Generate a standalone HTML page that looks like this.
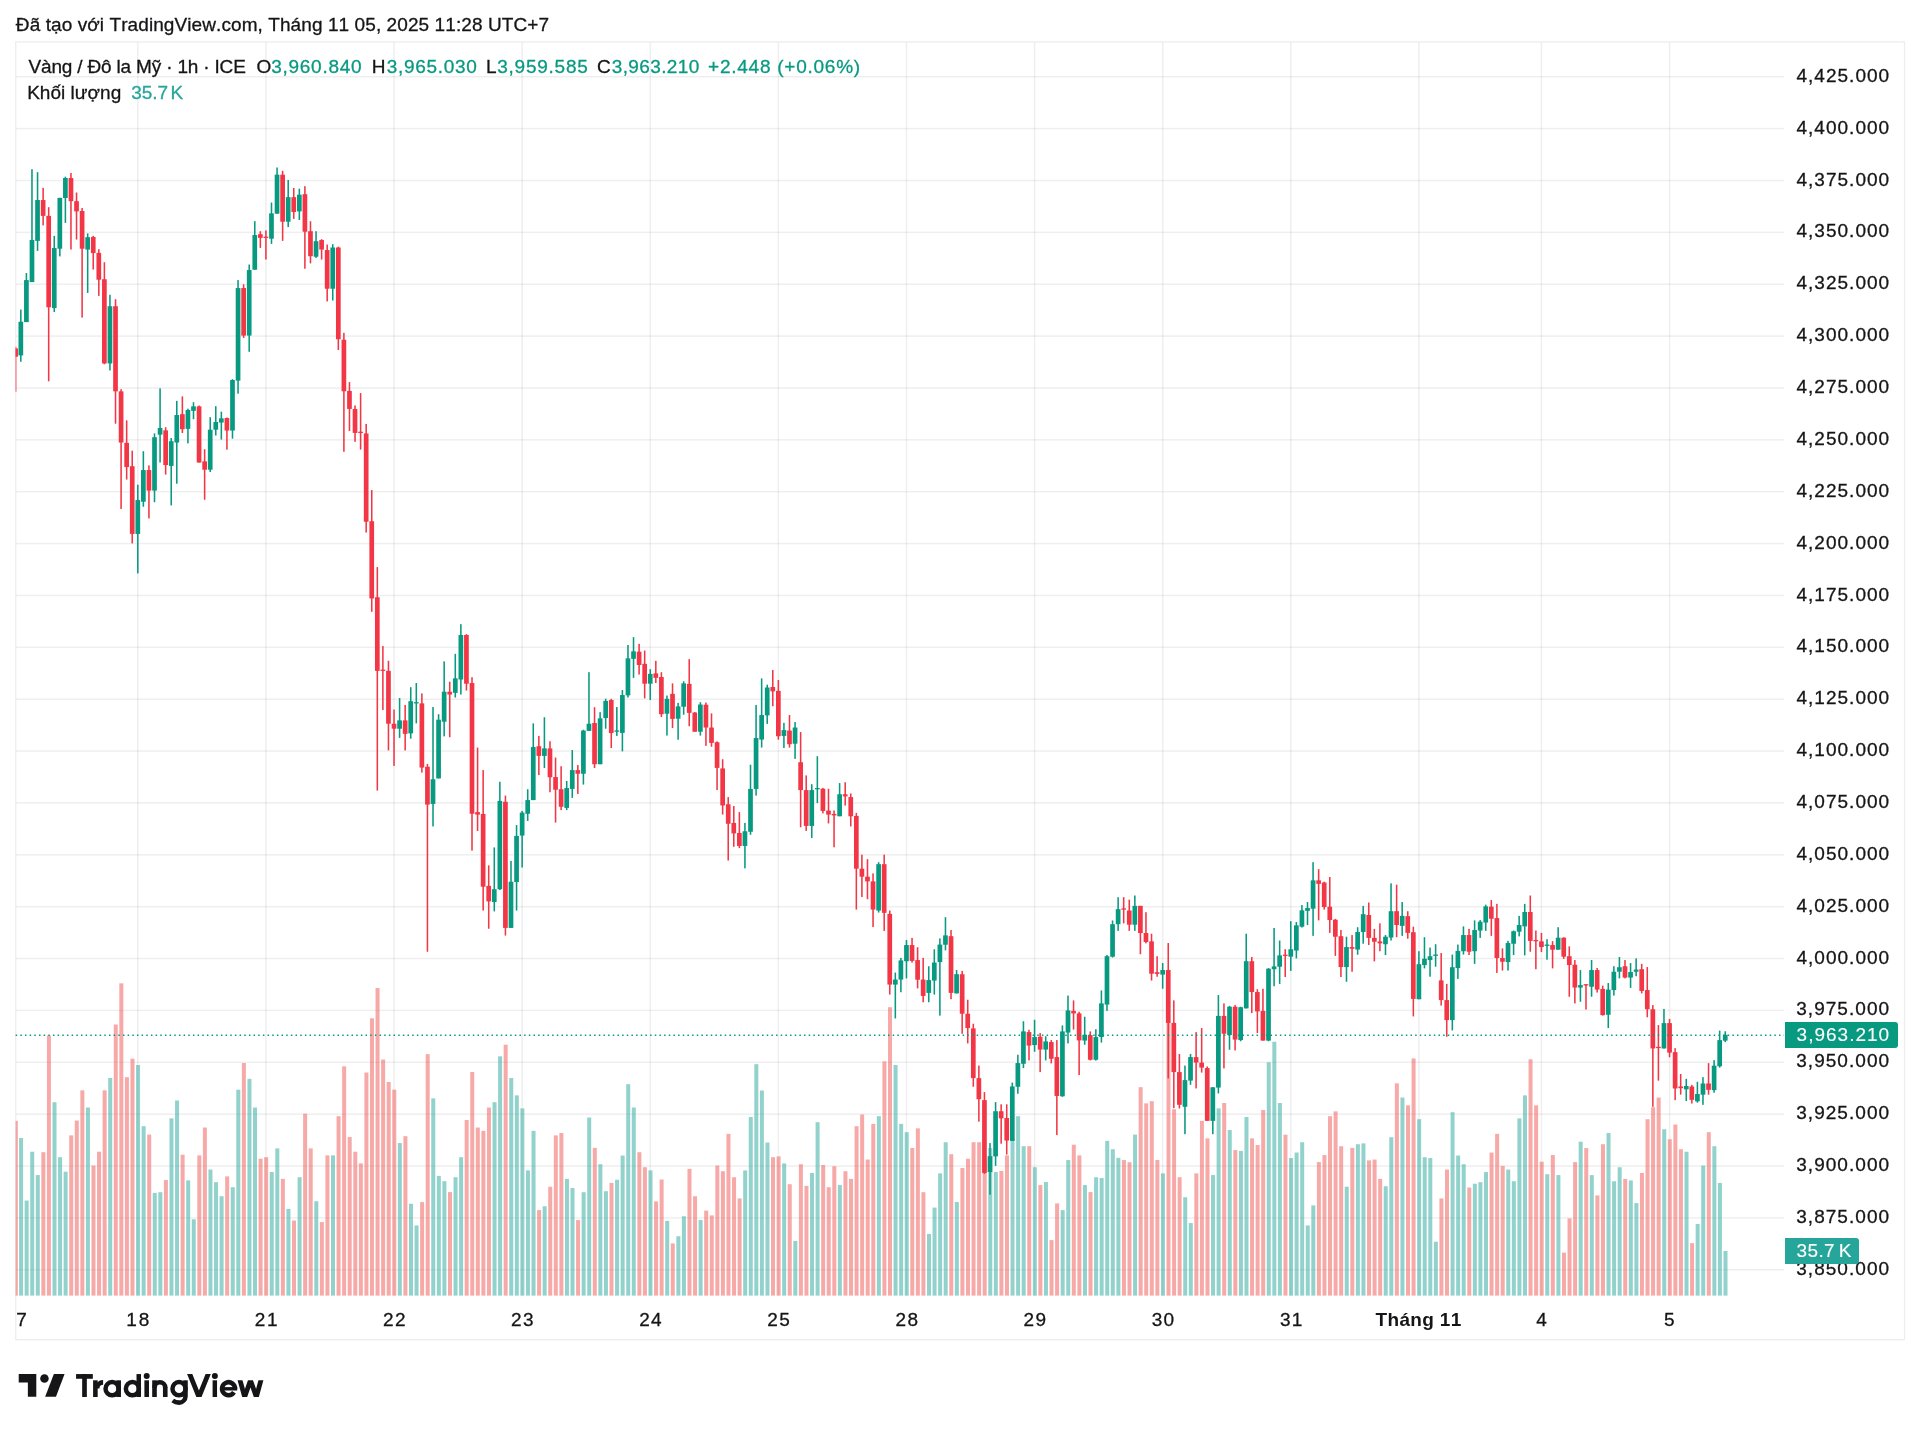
<!DOCTYPE html><html><head><meta charset="utf-8"><title>chart</title><style>
html,body{margin:0;padding:0;background:#fff}body{width:1920px;height:1433px;position:relative;overflow:hidden;font-family:"Liberation Sans",sans-serif}
.t{position:absolute;white-space:pre;line-height:1em;margin:0;padding:0;font-kerning:none;font-variant-ligatures:none;-webkit-text-stroke:0.3px currentColor}
</style></head><body>
<svg width="1920" height="1433" viewBox="0 0 1920 1433" style="position:absolute;left:0;top:0" shape-rendering="auto">
<defs><clipPath id="pc"><rect x="15.6" y="42" width="1768.4" height="1258"/></clipPath></defs>
<rect x="15.75" y="41.9" width="1888.75" height="1297.8" fill="none" stroke="rgba(20,20,30,0.075)" stroke-width="1.3"/><rect x="16.2" y="76" width="1767.8" height="1.5" fill="rgba(20,20,30,0.065)"/><rect x="16.2" y="127.87" width="1767.8" height="1.5" fill="rgba(20,20,30,0.065)"/><rect x="16.2" y="179.74" width="1767.8" height="1.5" fill="rgba(20,20,30,0.065)"/><rect x="16.2" y="231.61" width="1767.8" height="1.5" fill="rgba(20,20,30,0.065)"/><rect x="16.2" y="283.48" width="1767.8" height="1.5" fill="rgba(20,20,30,0.065)"/><rect x="16.2" y="335.35" width="1767.8" height="1.5" fill="rgba(20,20,30,0.065)"/><rect x="16.2" y="387.22" width="1767.8" height="1.5" fill="rgba(20,20,30,0.065)"/><rect x="16.2" y="439.09" width="1767.8" height="1.5" fill="rgba(20,20,30,0.065)"/><rect x="16.2" y="490.96" width="1767.8" height="1.5" fill="rgba(20,20,30,0.065)"/><rect x="16.2" y="542.83" width="1767.8" height="1.5" fill="rgba(20,20,30,0.065)"/><rect x="16.2" y="594.7" width="1767.8" height="1.5" fill="rgba(20,20,30,0.065)"/><rect x="16.2" y="646.57" width="1767.8" height="1.5" fill="rgba(20,20,30,0.065)"/><rect x="16.2" y="698.44" width="1767.8" height="1.5" fill="rgba(20,20,30,0.065)"/><rect x="16.2" y="750.31" width="1767.8" height="1.5" fill="rgba(20,20,30,0.065)"/><rect x="16.2" y="802.18" width="1767.8" height="1.5" fill="rgba(20,20,30,0.065)"/><rect x="16.2" y="854.05" width="1767.8" height="1.5" fill="rgba(20,20,30,0.065)"/><rect x="16.2" y="905.92" width="1767.8" height="1.5" fill="rgba(20,20,30,0.065)"/><rect x="16.2" y="957.79" width="1767.8" height="1.5" fill="rgba(20,20,30,0.065)"/><rect x="16.2" y="1009.66" width="1767.8" height="1.5" fill="rgba(20,20,30,0.065)"/><rect x="16.2" y="1061.53" width="1767.8" height="1.5" fill="rgba(20,20,30,0.065)"/><rect x="16.2" y="1113.4" width="1767.8" height="1.5" fill="rgba(20,20,30,0.065)"/><rect x="16.2" y="1165.27" width="1767.8" height="1.5" fill="rgba(20,20,30,0.065)"/><rect x="16.2" y="1217.14" width="1767.8" height="1.5" fill="rgba(20,20,30,0.065)"/><rect x="16.2" y="1269.01" width="1767.8" height="1.5" fill="rgba(20,20,30,0.065)"/><rect x="137.05" y="42.5" width="1.5" height="1254" fill="rgba(20,20,30,0.065)"/><rect x="265.16" y="42.5" width="1.5" height="1254" fill="rgba(20,20,30,0.065)"/><rect x="393.27" y="42.5" width="1.5" height="1254" fill="rgba(20,20,30,0.065)"/><rect x="521.38" y="42.5" width="1.5" height="1254" fill="rgba(20,20,30,0.065)"/><rect x="649.49" y="42.5" width="1.5" height="1254" fill="rgba(20,20,30,0.065)"/><rect x="777.6" y="42.5" width="1.5" height="1254" fill="rgba(20,20,30,0.065)"/><rect x="905.71" y="42.5" width="1.5" height="1254" fill="rgba(20,20,30,0.065)"/><rect x="1033.82" y="42.5" width="1.5" height="1254" fill="rgba(20,20,30,0.065)"/><rect x="1161.93" y="42.5" width="1.5" height="1254" fill="rgba(20,20,30,0.065)"/><rect x="1290.04" y="42.5" width="1.5" height="1254" fill="rgba(20,20,30,0.065)"/><rect x="1418.15" y="42.5" width="1.5" height="1254" fill="rgba(20,20,30,0.065)"/><rect x="1540.69" y="42.5" width="1.5" height="1254" fill="rgba(20,20,30,0.065)"/><rect x="1668.8" y="42.5" width="1.5" height="1254" fill="rgba(20,20,30,0.065)"/>
<g clip-path="url(#pc)"><rect x="13.86" y="1120.86" width="4" height="174.74" fill="rgba(239,83,80,0.5)"/><rect x="19.08" y="1138.04" width="4" height="157.56" fill="rgba(38,166,154,0.5)"/><rect x="24.65" y="1200.57" width="4" height="95.03" fill="rgba(38,166,154,0.5)"/><rect x="30.22" y="1151.71" width="4" height="143.89" fill="rgba(38,166,154,0.5)"/><rect x="35.79" y="1175.06" width="4" height="120.54" fill="rgba(38,166,154,0.5)"/><rect x="41.36" y="1152.21" width="4" height="143.39" fill="rgba(239,83,80,0.5)"/><rect x="46.93" y="1035.5" width="4" height="260.1" fill="rgba(239,83,80,0.5)"/><rect x="52.5" y="1102.19" width="4" height="193.41" fill="rgba(38,166,154,0.5)"/><rect x="58.07" y="1157.22" width="4" height="138.38" fill="rgba(38,166,154,0.5)"/><rect x="63.64" y="1171.72" width="4" height="123.88" fill="rgba(38,166,154,0.5)"/><rect x="69.21" y="1135.37" width="4" height="160.23" fill="rgba(239,83,80,0.5)"/><rect x="74.78" y="1120.53" width="4" height="175.07" fill="rgba(239,83,80,0.5)"/><rect x="80.35" y="1090.35" width="4" height="205.25" fill="rgba(239,83,80,0.5)"/><rect x="85.92" y="1107.52" width="4" height="188.08" fill="rgba(38,166,154,0.5)"/><rect x="91.49" y="1165.55" width="4" height="130.05" fill="rgba(239,83,80,0.5)"/><rect x="97.06" y="1151.71" width="4" height="143.89" fill="rgba(239,83,80,0.5)"/><rect x="102.63" y="1090.35" width="4" height="205.25" fill="rgba(239,83,80,0.5)"/><rect x="108.2" y="1078.01" width="4" height="217.59" fill="rgba(38,166,154,0.5)"/><rect x="113.77" y="1024.5" width="4" height="271.1" fill="rgba(239,83,80,0.5)"/><rect x="119.34" y="983.33" width="4" height="312.27" fill="rgba(239,83,80,0.5)"/><rect x="124.91" y="1077.18" width="4" height="218.42" fill="rgba(239,83,80,0.5)"/><rect x="130.48" y="1058.67" width="4" height="236.93" fill="rgba(239,83,80,0.5)"/><rect x="136.05" y="1065" width="4" height="230.6" fill="rgba(38,166,154,0.5)"/><rect x="141.62" y="1126.2" width="4" height="169.4" fill="rgba(38,166,154,0.5)"/><rect x="147.19" y="1134.54" width="4" height="161.06" fill="rgba(239,83,80,0.5)"/><rect x="152.76" y="1192.9" width="4" height="102.7" fill="rgba(38,166,154,0.5)"/><rect x="158.33" y="1192.23" width="4" height="103.37" fill="rgba(38,166,154,0.5)"/><rect x="163.9" y="1180.06" width="4" height="115.54" fill="rgba(239,83,80,0.5)"/><rect x="169.47" y="1118.36" width="4" height="177.24" fill="rgba(38,166,154,0.5)"/><rect x="175.04" y="1100.52" width="4" height="195.08" fill="rgba(38,166,154,0.5)"/><rect x="180.61" y="1154.71" width="4" height="140.89" fill="rgba(239,83,80,0.5)"/><rect x="186.18" y="1180.39" width="4" height="115.21" fill="rgba(38,166,154,0.5)"/><rect x="191.75" y="1219.25" width="4" height="76.35" fill="rgba(38,166,154,0.5)"/><rect x="197.32" y="1155.38" width="4" height="140.22" fill="rgba(239,83,80,0.5)"/><rect x="202.89" y="1127.53" width="4" height="168.07" fill="rgba(239,83,80,0.5)"/><rect x="208.46" y="1169.55" width="4" height="126.05" fill="rgba(38,166,154,0.5)"/><rect x="214.03" y="1182.23" width="4" height="113.37" fill="rgba(38,166,154,0.5)"/><rect x="219.6" y="1196.23" width="4" height="99.37" fill="rgba(38,166,154,0.5)"/><rect x="225.17" y="1176.39" width="4" height="119.21" fill="rgba(239,83,80,0.5)"/><rect x="230.74" y="1187.23" width="4" height="108.37" fill="rgba(38,166,154,0.5)"/><rect x="236.31" y="1089.68" width="4" height="205.92" fill="rgba(38,166,154,0.5)"/><rect x="241.88" y="1063" width="4" height="232.6" fill="rgba(239,83,80,0.5)"/><rect x="247.45" y="1078.84" width="4" height="216.76" fill="rgba(38,166,154,0.5)"/><rect x="253.02" y="1107.52" width="4" height="188.08" fill="rgba(38,166,154,0.5)"/><rect x="258.59" y="1158.72" width="4" height="136.88" fill="rgba(239,83,80,0.5)"/><rect x="264.16" y="1157.22" width="4" height="138.38" fill="rgba(239,83,80,0.5)"/><rect x="269.73" y="1172.06" width="4" height="123.54" fill="rgba(38,166,154,0.5)"/><rect x="275.3" y="1148.38" width="4" height="147.22" fill="rgba(38,166,154,0.5)"/><rect x="280.87" y="1178.89" width="4" height="116.71" fill="rgba(239,83,80,0.5)"/><rect x="286.44" y="1208.91" width="4" height="86.69" fill="rgba(38,166,154,0.5)"/><rect x="292.01" y="1220.58" width="4" height="75.02" fill="rgba(239,83,80,0.5)"/><rect x="297.58" y="1177.23" width="4" height="118.37" fill="rgba(38,166,154,0.5)"/><rect x="303.15" y="1113.69" width="4" height="181.91" fill="rgba(239,83,80,0.5)"/><rect x="308.72" y="1148.38" width="4" height="147.22" fill="rgba(239,83,80,0.5)"/><rect x="314.29" y="1201.24" width="4" height="94.36" fill="rgba(38,166,154,0.5)"/><rect x="319.86" y="1222.08" width="4" height="73.52" fill="rgba(239,83,80,0.5)"/><rect x="325.43" y="1155.38" width="4" height="140.22" fill="rgba(239,83,80,0.5)"/><rect x="331" y="1155.38" width="4" height="140.22" fill="rgba(38,166,154,0.5)"/><rect x="336.57" y="1116.19" width="4" height="179.41" fill="rgba(239,83,80,0.5)"/><rect x="342.14" y="1066.34" width="4" height="229.26" fill="rgba(239,83,80,0.5)"/><rect x="347.71" y="1137.04" width="4" height="158.56" fill="rgba(239,83,80,0.5)"/><rect x="353.28" y="1151.71" width="4" height="143.89" fill="rgba(239,83,80,0.5)"/><rect x="358.85" y="1163.39" width="4" height="132.21" fill="rgba(239,83,80,0.5)"/><rect x="364.42" y="1072.51" width="4" height="223.09" fill="rgba(239,83,80,0.5)"/><rect x="369.99" y="1018.33" width="4" height="277.27" fill="rgba(239,83,80,0.5)"/><rect x="375.56" y="988" width="4" height="307.6" fill="rgba(239,83,80,0.5)"/><rect x="381.13" y="1059.5" width="4" height="236.1" fill="rgba(239,83,80,0.5)"/><rect x="386.7" y="1082.01" width="4" height="213.59" fill="rgba(239,83,80,0.5)"/><rect x="392.27" y="1089.68" width="4" height="205.92" fill="rgba(239,83,80,0.5)"/><rect x="397.84" y="1143.04" width="4" height="152.56" fill="rgba(38,166,154,0.5)"/><rect x="403.41" y="1136.2" width="4" height="159.4" fill="rgba(239,83,80,0.5)"/><rect x="408.98" y="1203.74" width="4" height="91.86" fill="rgba(38,166,154,0.5)"/><rect x="414.55" y="1225.42" width="4" height="70.18" fill="rgba(38,166,154,0.5)"/><rect x="420.12" y="1202.07" width="4" height="93.53" fill="rgba(239,83,80,0.5)"/><rect x="425.69" y="1054.17" width="4" height="241.43" fill="rgba(239,83,80,0.5)"/><rect x="431.26" y="1098.35" width="4" height="197.25" fill="rgba(38,166,154,0.5)"/><rect x="436.83" y="1175.89" width="4" height="119.71" fill="rgba(38,166,154,0.5)"/><rect x="442.4" y="1181.23" width="4" height="114.37" fill="rgba(38,166,154,0.5)"/><rect x="447.97" y="1192.07" width="4" height="103.53" fill="rgba(239,83,80,0.5)"/><rect x="453.54" y="1177.23" width="4" height="118.37" fill="rgba(38,166,154,0.5)"/><rect x="459.11" y="1157.22" width="4" height="138.38" fill="rgba(38,166,154,0.5)"/><rect x="464.68" y="1120.03" width="4" height="175.57" fill="rgba(239,83,80,0.5)"/><rect x="470.25" y="1072.01" width="4" height="223.59" fill="rgba(239,83,80,0.5)"/><rect x="475.82" y="1127.53" width="4" height="168.07" fill="rgba(239,83,80,0.5)"/><rect x="481.39" y="1130.87" width="4" height="164.73" fill="rgba(239,83,80,0.5)"/><rect x="486.96" y="1107.52" width="4" height="188.08" fill="rgba(239,83,80,0.5)"/><rect x="492.53" y="1102.19" width="4" height="193.41" fill="rgba(38,166,154,0.5)"/><rect x="498.1" y="1056.33" width="4" height="239.27" fill="rgba(38,166,154,0.5)"/><rect x="503.67" y="1044.67" width="4" height="250.93" fill="rgba(239,83,80,0.5)"/><rect x="509.24" y="1078.01" width="4" height="217.59" fill="rgba(38,166,154,0.5)"/><rect x="514.81" y="1095.35" width="4" height="200.25" fill="rgba(38,166,154,0.5)"/><rect x="520.38" y="1108.36" width="4" height="187.24" fill="rgba(38,166,154,0.5)"/><rect x="525.95" y="1170.39" width="4" height="125.21" fill="rgba(38,166,154,0.5)"/><rect x="531.52" y="1130.87" width="4" height="164.73" fill="rgba(38,166,154,0.5)"/><rect x="537.09" y="1210.08" width="4" height="85.52" fill="rgba(239,83,80,0.5)"/><rect x="542.66" y="1206.24" width="4" height="89.36" fill="rgba(38,166,154,0.5)"/><rect x="548.23" y="1186.73" width="4" height="108.87" fill="rgba(239,83,80,0.5)"/><rect x="553.8" y="1135.37" width="4" height="160.23" fill="rgba(239,83,80,0.5)"/><rect x="559.37" y="1133.04" width="4" height="162.56" fill="rgba(239,83,80,0.5)"/><rect x="564.94" y="1178.89" width="4" height="116.71" fill="rgba(38,166,154,0.5)"/><rect x="570.51" y="1188.06" width="4" height="107.54" fill="rgba(38,166,154,0.5)"/><rect x="576.08" y="1220.08" width="4" height="75.52" fill="rgba(239,83,80,0.5)"/><rect x="581.65" y="1192.23" width="4" height="103.37" fill="rgba(38,166,154,0.5)"/><rect x="587.22" y="1117.53" width="4" height="178.07" fill="rgba(38,166,154,0.5)"/><rect x="592.79" y="1147.88" width="4" height="147.72" fill="rgba(239,83,80,0.5)"/><rect x="598.36" y="1164.22" width="4" height="131.38" fill="rgba(38,166,154,0.5)"/><rect x="603.93" y="1191.23" width="4" height="104.37" fill="rgba(38,166,154,0.5)"/><rect x="609.5" y="1182.89" width="4" height="112.71" fill="rgba(239,83,80,0.5)"/><rect x="615.07" y="1179.73" width="4" height="115.87" fill="rgba(38,166,154,0.5)"/><rect x="620.64" y="1155.55" width="4" height="140.05" fill="rgba(38,166,154,0.5)"/><rect x="626.21" y="1084.18" width="4" height="211.42" fill="rgba(38,166,154,0.5)"/><rect x="631.78" y="1107.52" width="4" height="188.08" fill="rgba(38,166,154,0.5)"/><rect x="637.35" y="1152.21" width="4" height="143.39" fill="rgba(239,83,80,0.5)"/><rect x="642.92" y="1167.22" width="4" height="128.38" fill="rgba(239,83,80,0.5)"/><rect x="648.49" y="1170.39" width="4" height="125.21" fill="rgba(38,166,154,0.5)"/><rect x="654.06" y="1201.4" width="4" height="94.2" fill="rgba(239,83,80,0.5)"/><rect x="659.63" y="1179.56" width="4" height="116.04" fill="rgba(239,83,80,0.5)"/><rect x="665.2" y="1220.91" width="4" height="74.69" fill="rgba(38,166,154,0.5)"/><rect x="670.77" y="1243.43" width="4" height="52.17" fill="rgba(239,83,80,0.5)"/><rect x="676.34" y="1236.25" width="4" height="59.35" fill="rgba(38,166,154,0.5)"/><rect x="681.91" y="1216.24" width="4" height="79.36" fill="rgba(38,166,154,0.5)"/><rect x="687.48" y="1168.89" width="4" height="126.71" fill="rgba(239,83,80,0.5)"/><rect x="693.05" y="1196.23" width="4" height="99.37" fill="rgba(239,83,80,0.5)"/><rect x="698.62" y="1220.08" width="4" height="75.52" fill="rgba(38,166,154,0.5)"/><rect x="704.19" y="1210.58" width="4" height="85.02" fill="rgba(239,83,80,0.5)"/><rect x="709.76" y="1215.41" width="4" height="80.19" fill="rgba(239,83,80,0.5)"/><rect x="715.33" y="1165.55" width="4" height="130.05" fill="rgba(239,83,80,0.5)"/><rect x="720.9" y="1171.22" width="4" height="124.38" fill="rgba(239,83,80,0.5)"/><rect x="726.47" y="1133.87" width="4" height="161.73" fill="rgba(239,83,80,0.5)"/><rect x="732.04" y="1177.23" width="4" height="118.37" fill="rgba(239,83,80,0.5)"/><rect x="737.61" y="1198.4" width="4" height="97.2" fill="rgba(239,83,80,0.5)"/><rect x="743.18" y="1170.39" width="4" height="125.21" fill="rgba(38,166,154,0.5)"/><rect x="748.75" y="1117.03" width="4" height="178.57" fill="rgba(38,166,154,0.5)"/><rect x="754.32" y="1064.17" width="4" height="231.43" fill="rgba(38,166,154,0.5)"/><rect x="759.89" y="1090.52" width="4" height="205.08" fill="rgba(38,166,154,0.5)"/><rect x="765.46" y="1142.54" width="4" height="153.06" fill="rgba(38,166,154,0.5)"/><rect x="771.03" y="1157.22" width="4" height="138.38" fill="rgba(239,83,80,0.5)"/><rect x="776.6" y="1156.38" width="4" height="139.22" fill="rgba(239,83,80,0.5)"/><rect x="782.17" y="1163.39" width="4" height="132.21" fill="rgba(38,166,154,0.5)"/><rect x="787.74" y="1184.23" width="4" height="111.37" fill="rgba(239,83,80,0.5)"/><rect x="793.31" y="1240.92" width="4" height="54.68" fill="rgba(38,166,154,0.5)"/><rect x="798.88" y="1164.22" width="4" height="131.38" fill="rgba(239,83,80,0.5)"/><rect x="804.45" y="1185.9" width="4" height="109.7" fill="rgba(239,83,80,0.5)"/><rect x="810.02" y="1172.89" width="4" height="122.71" fill="rgba(38,166,154,0.5)"/><rect x="815.59" y="1122.2" width="4" height="173.4" fill="rgba(38,166,154,0.5)"/><rect x="821.16" y="1165.05" width="4" height="130.55" fill="rgba(239,83,80,0.5)"/><rect x="826.73" y="1187.23" width="4" height="108.37" fill="rgba(239,83,80,0.5)"/><rect x="832.3" y="1166.22" width="4" height="129.38" fill="rgba(239,83,80,0.5)"/><rect x="837.87" y="1185.06" width="4" height="110.54" fill="rgba(38,166,154,0.5)"/><rect x="843.44" y="1171.22" width="4" height="124.38" fill="rgba(239,83,80,0.5)"/><rect x="849.01" y="1178.89" width="4" height="116.71" fill="rgba(239,83,80,0.5)"/><rect x="854.58" y="1126.2" width="4" height="169.4" fill="rgba(239,83,80,0.5)"/><rect x="860.15" y="1114.53" width="4" height="181.07" fill="rgba(239,83,80,0.5)"/><rect x="865.72" y="1159.55" width="4" height="136.05" fill="rgba(239,83,80,0.5)"/><rect x="871.29" y="1123.87" width="4" height="171.73" fill="rgba(239,83,80,0.5)"/><rect x="876.86" y="1116.19" width="4" height="179.41" fill="rgba(38,166,154,0.5)"/><rect x="882.43" y="1061.33" width="4" height="234.27" fill="rgba(239,83,80,0.5)"/><rect x="888" y="1007.2" width="4" height="288.4" fill="rgba(239,83,80,0.5)"/><rect x="893.57" y="1065" width="4" height="230.6" fill="rgba(38,166,154,0.5)"/><rect x="899.14" y="1123.87" width="4" height="171.73" fill="rgba(38,166,154,0.5)"/><rect x="904.71" y="1132.2" width="4" height="163.4" fill="rgba(38,166,154,0.5)"/><rect x="910.28" y="1148.04" width="4" height="147.56" fill="rgba(239,83,80,0.5)"/><rect x="915.85" y="1128.37" width="4" height="167.23" fill="rgba(239,83,80,0.5)"/><rect x="921.42" y="1192.23" width="4" height="103.37" fill="rgba(239,83,80,0.5)"/><rect x="926.99" y="1233.92" width="4" height="61.68" fill="rgba(38,166,154,0.5)"/><rect x="932.56" y="1207.57" width="4" height="88.03" fill="rgba(38,166,154,0.5)"/><rect x="938.13" y="1173.39" width="4" height="122.21" fill="rgba(38,166,154,0.5)"/><rect x="943.7" y="1142.21" width="4" height="153.39" fill="rgba(38,166,154,0.5)"/><rect x="949.27" y="1154.21" width="4" height="141.39" fill="rgba(239,83,80,0.5)"/><rect x="954.84" y="1202.07" width="4" height="93.53" fill="rgba(38,166,154,0.5)"/><rect x="960.41" y="1168.05" width="4" height="127.55" fill="rgba(239,83,80,0.5)"/><rect x="965.98" y="1158.72" width="4" height="136.88" fill="rgba(239,83,80,0.5)"/><rect x="971.55" y="1142.21" width="4" height="153.39" fill="rgba(239,83,80,0.5)"/><rect x="977.12" y="1142.21" width="4" height="153.39" fill="rgba(239,83,80,0.5)"/><rect x="982.69" y="1160.05" width="4" height="135.55" fill="rgba(239,83,80,0.5)"/><rect x="988.26" y="1148.04" width="4" height="147.56" fill="rgba(38,166,154,0.5)"/><rect x="993.83" y="1172.06" width="4" height="123.54" fill="rgba(38,166,154,0.5)"/><rect x="999.4" y="1170.89" width="4" height="124.71" fill="rgba(239,83,80,0.5)"/><rect x="1004.97" y="1155.38" width="4" height="140.22" fill="rgba(239,83,80,0.5)"/><rect x="1010.54" y="1138.37" width="4" height="157.23" fill="rgba(38,166,154,0.5)"/><rect x="1016.11" y="1116.19" width="4" height="179.41" fill="rgba(38,166,154,0.5)"/><rect x="1021.68" y="1146.21" width="4" height="149.39" fill="rgba(38,166,154,0.5)"/><rect x="1027.25" y="1146.21" width="4" height="149.39" fill="rgba(239,83,80,0.5)"/><rect x="1032.82" y="1167.22" width="4" height="128.38" fill="rgba(38,166,154,0.5)"/><rect x="1038.39" y="1185.06" width="4" height="110.54" fill="rgba(239,83,80,0.5)"/><rect x="1043.96" y="1182.06" width="4" height="113.54" fill="rgba(38,166,154,0.5)"/><rect x="1049.53" y="1240.09" width="4" height="55.51" fill="rgba(239,83,80,0.5)"/><rect x="1055.1" y="1203.41" width="4" height="92.19" fill="rgba(239,83,80,0.5)"/><rect x="1060.67" y="1210.08" width="4" height="85.52" fill="rgba(38,166,154,0.5)"/><rect x="1066.24" y="1160.05" width="4" height="135.55" fill="rgba(38,166,154,0.5)"/><rect x="1071.81" y="1144.71" width="4" height="150.89" fill="rgba(239,83,80,0.5)"/><rect x="1077.38" y="1155.38" width="4" height="140.22" fill="rgba(239,83,80,0.5)"/><rect x="1082.95" y="1185.06" width="4" height="110.54" fill="rgba(38,166,154,0.5)"/><rect x="1088.52" y="1192.07" width="4" height="103.53" fill="rgba(239,83,80,0.5)"/><rect x="1094.09" y="1177.23" width="4" height="118.37" fill="rgba(38,166,154,0.5)"/><rect x="1099.66" y="1178.06" width="4" height="117.54" fill="rgba(38,166,154,0.5)"/><rect x="1105.23" y="1140.87" width="4" height="154.73" fill="rgba(38,166,154,0.5)"/><rect x="1110.8" y="1149.21" width="4" height="146.39" fill="rgba(38,166,154,0.5)"/><rect x="1116.37" y="1157.88" width="4" height="137.72" fill="rgba(38,166,154,0.5)"/><rect x="1121.94" y="1160.05" width="4" height="135.55" fill="rgba(239,83,80,0.5)"/><rect x="1127.51" y="1162.22" width="4" height="133.38" fill="rgba(239,83,80,0.5)"/><rect x="1133.08" y="1134.54" width="4" height="161.06" fill="rgba(38,166,154,0.5)"/><rect x="1138.65" y="1087.18" width="4" height="208.42" fill="rgba(239,83,80,0.5)"/><rect x="1144.22" y="1103.36" width="4" height="192.24" fill="rgba(239,83,80,0.5)"/><rect x="1149.79" y="1101.19" width="4" height="194.41" fill="rgba(239,83,80,0.5)"/><rect x="1155.36" y="1160.05" width="4" height="135.55" fill="rgba(239,83,80,0.5)"/><rect x="1160.93" y="1173.39" width="4" height="122.21" fill="rgba(38,166,154,0.5)"/><rect x="1166.5" y="1022" width="4" height="273.6" fill="rgba(239,83,80,0.5)"/><rect x="1172.07" y="1109.19" width="4" height="186.41" fill="rgba(239,83,80,0.5)"/><rect x="1177.64" y="1177.23" width="4" height="118.37" fill="rgba(239,83,80,0.5)"/><rect x="1183.21" y="1197.24" width="4" height="98.36" fill="rgba(38,166,154,0.5)"/><rect x="1188.78" y="1223.08" width="4" height="72.52" fill="rgba(38,166,154,0.5)"/><rect x="1194.35" y="1173.39" width="4" height="122.21" fill="rgba(239,83,80,0.5)"/><rect x="1199.92" y="1120.86" width="4" height="174.74" fill="rgba(239,83,80,0.5)"/><rect x="1205.49" y="1138.37" width="4" height="157.23" fill="rgba(239,83,80,0.5)"/><rect x="1211.06" y="1175.06" width="4" height="120.54" fill="rgba(38,166,154,0.5)"/><rect x="1216.63" y="1108.36" width="4" height="187.24" fill="rgba(38,166,154,0.5)"/><rect x="1222.2" y="1103.02" width="4" height="192.58" fill="rgba(239,83,80,0.5)"/><rect x="1227.77" y="1130.04" width="4" height="165.56" fill="rgba(38,166,154,0.5)"/><rect x="1233.34" y="1150.05" width="4" height="145.55" fill="rgba(239,83,80,0.5)"/><rect x="1238.91" y="1150.88" width="4" height="144.72" fill="rgba(38,166,154,0.5)"/><rect x="1244.48" y="1117.03" width="4" height="178.57" fill="rgba(38,166,154,0.5)"/><rect x="1250.05" y="1138.37" width="4" height="157.23" fill="rgba(239,83,80,0.5)"/><rect x="1255.62" y="1145.04" width="4" height="150.56" fill="rgba(239,83,80,0.5)"/><rect x="1261.19" y="1110.03" width="4" height="185.57" fill="rgba(239,83,80,0.5)"/><rect x="1266.76" y="1062.27" width="4" height="233.33" fill="rgba(38,166,154,0.5)"/><rect x="1272.33" y="1041.76" width="4" height="253.84" fill="rgba(38,166,154,0.5)"/><rect x="1277.9" y="1103.02" width="4" height="192.58" fill="rgba(38,166,154,0.5)"/><rect x="1283.47" y="1134.7" width="4" height="160.9" fill="rgba(239,83,80,0.5)"/><rect x="1289.04" y="1158.05" width="4" height="137.55" fill="rgba(38,166,154,0.5)"/><rect x="1294.61" y="1152.55" width="4" height="143.05" fill="rgba(38,166,154,0.5)"/><rect x="1300.18" y="1142.21" width="4" height="153.39" fill="rgba(38,166,154,0.5)"/><rect x="1305.75" y="1225.42" width="4" height="70.18" fill="rgba(38,166,154,0.5)"/><rect x="1311.32" y="1205.41" width="4" height="90.19" fill="rgba(38,166,154,0.5)"/><rect x="1316.89" y="1162.05" width="4" height="133.55" fill="rgba(239,83,80,0.5)"/><rect x="1322.46" y="1155.05" width="4" height="140.55" fill="rgba(239,83,80,0.5)"/><rect x="1328.03" y="1116.19" width="4" height="179.41" fill="rgba(239,83,80,0.5)"/><rect x="1333.6" y="1111.36" width="4" height="184.24" fill="rgba(239,83,80,0.5)"/><rect x="1339.17" y="1146.21" width="4" height="149.39" fill="rgba(239,83,80,0.5)"/><rect x="1344.74" y="1186.73" width="4" height="108.87" fill="rgba(38,166,154,0.5)"/><rect x="1350.31" y="1147.88" width="4" height="147.72" fill="rgba(239,83,80,0.5)"/><rect x="1355.88" y="1144.21" width="4" height="151.39" fill="rgba(38,166,154,0.5)"/><rect x="1361.45" y="1143.38" width="4" height="152.22" fill="rgba(38,166,154,0.5)"/><rect x="1367.02" y="1160.38" width="4" height="135.22" fill="rgba(239,83,80,0.5)"/><rect x="1372.59" y="1159.55" width="4" height="136.05" fill="rgba(239,83,80,0.5)"/><rect x="1378.16" y="1178.89" width="4" height="116.71" fill="rgba(239,83,80,0.5)"/><rect x="1383.73" y="1186.23" width="4" height="109.37" fill="rgba(38,166,154,0.5)"/><rect x="1389.3" y="1137.21" width="4" height="158.39" fill="rgba(38,166,154,0.5)"/><rect x="1394.87" y="1083.35" width="4" height="212.25" fill="rgba(239,83,80,0.5)"/><rect x="1400.44" y="1097.52" width="4" height="198.08" fill="rgba(38,166,154,0.5)"/><rect x="1406.01" y="1105.36" width="4" height="190.24" fill="rgba(239,83,80,0.5)"/><rect x="1411.58" y="1058.44" width="4" height="237.16" fill="rgba(239,83,80,0.5)"/><rect x="1417.15" y="1119.2" width="4" height="176.4" fill="rgba(38,166,154,0.5)"/><rect x="1422.72" y="1157.22" width="4" height="138.38" fill="rgba(38,166,154,0.5)"/><rect x="1428.29" y="1158.05" width="4" height="137.55" fill="rgba(38,166,154,0.5)"/><rect x="1433.86" y="1241.76" width="4" height="53.84" fill="rgba(38,166,154,0.5)"/><rect x="1439.43" y="1198.4" width="4" height="97.2" fill="rgba(239,83,80,0.5)"/><rect x="1445" y="1169.55" width="4" height="126.05" fill="rgba(239,83,80,0.5)"/><rect x="1450.57" y="1112.19" width="4" height="183.41" fill="rgba(38,166,154,0.5)"/><rect x="1456.14" y="1155.55" width="4" height="140.05" fill="rgba(38,166,154,0.5)"/><rect x="1461.71" y="1164.22" width="4" height="131.38" fill="rgba(38,166,154,0.5)"/><rect x="1467.28" y="1187.56" width="4" height="108.04" fill="rgba(239,83,80,0.5)"/><rect x="1472.85" y="1183.73" width="4" height="111.87" fill="rgba(38,166,154,0.5)"/><rect x="1478.42" y="1182.23" width="4" height="113.37" fill="rgba(38,166,154,0.5)"/><rect x="1483.99" y="1172.06" width="4" height="123.54" fill="rgba(38,166,154,0.5)"/><rect x="1489.56" y="1152.55" width="4" height="143.05" fill="rgba(239,83,80,0.5)"/><rect x="1495.13" y="1133.87" width="4" height="161.73" fill="rgba(239,83,80,0.5)"/><rect x="1500.7" y="1165.89" width="4" height="129.71" fill="rgba(239,83,80,0.5)"/><rect x="1506.27" y="1169.55" width="4" height="126.05" fill="rgba(38,166,154,0.5)"/><rect x="1511.84" y="1181.23" width="4" height="114.37" fill="rgba(38,166,154,0.5)"/><rect x="1517.41" y="1118.36" width="4" height="177.24" fill="rgba(38,166,154,0.5)"/><rect x="1522.98" y="1095.35" width="4" height="200.25" fill="rgba(38,166,154,0.5)"/><rect x="1528.55" y="1059.27" width="4" height="236.33" fill="rgba(239,83,80,0.5)"/><rect x="1534.12" y="1105.36" width="4" height="190.24" fill="rgba(239,83,80,0.5)"/><rect x="1539.69" y="1161.72" width="4" height="133.88" fill="rgba(239,83,80,0.5)"/><rect x="1545.26" y="1174.22" width="4" height="121.38" fill="rgba(38,166,154,0.5)"/><rect x="1550.83" y="1155.05" width="4" height="140.55" fill="rgba(239,83,80,0.5)"/><rect x="1556.4" y="1175.06" width="4" height="120.54" fill="rgba(38,166,154,0.5)"/><rect x="1561.97" y="1252.6" width="4" height="43" fill="rgba(239,83,80,0.5)"/><rect x="1567.54" y="1218.41" width="4" height="77.19" fill="rgba(239,83,80,0.5)"/><rect x="1573.11" y="1162.09" width="4" height="133.51" fill="rgba(239,83,80,0.5)"/><rect x="1578.68" y="1141.73" width="4" height="153.87" fill="rgba(38,166,154,0.5)"/><rect x="1584.25" y="1148.07" width="4" height="147.53" fill="rgba(239,83,80,0.5)"/><rect x="1589.82" y="1175.1" width="4" height="120.5" fill="rgba(38,166,154,0.5)"/><rect x="1595.39" y="1195.45" width="4" height="100.15" fill="rgba(239,83,80,0.5)"/><rect x="1600.96" y="1144.24" width="4" height="151.36" fill="rgba(239,83,80,0.5)"/><rect x="1606.53" y="1133.06" width="4" height="162.54" fill="rgba(38,166,154,0.5)"/><rect x="1612.1" y="1181.27" width="4" height="114.33" fill="rgba(38,166,154,0.5)"/><rect x="1617.67" y="1167.26" width="4" height="128.34" fill="rgba(38,166,154,0.5)"/><rect x="1623.24" y="1178.93" width="4" height="116.67" fill="rgba(239,83,80,0.5)"/><rect x="1628.81" y="1180.43" width="4" height="115.17" fill="rgba(38,166,154,0.5)"/><rect x="1634.38" y="1203.12" width="4" height="92.48" fill="rgba(38,166,154,0.5)"/><rect x="1639.95" y="1172.93" width="4" height="122.67" fill="rgba(239,83,80,0.5)"/><rect x="1645.52" y="1119.22" width="4" height="176.38" fill="rgba(239,83,80,0.5)"/><rect x="1651.09" y="1107.21" width="4" height="188.39" fill="rgba(239,83,80,0.5)"/><rect x="1656.66" y="1097.53" width="4" height="198.07" fill="rgba(239,83,80,0.5)"/><rect x="1662.23" y="1129.22" width="4" height="166.38" fill="rgba(38,166,154,0.5)"/><rect x="1667.8" y="1139.23" width="4" height="156.37" fill="rgba(239,83,80,0.5)"/><rect x="1673.37" y="1124.55" width="4" height="171.05" fill="rgba(239,83,80,0.5)"/><rect x="1678.94" y="1149.24" width="4" height="146.36" fill="rgba(239,83,80,0.5)"/><rect x="1684.51" y="1151.74" width="4" height="143.86" fill="rgba(38,166,154,0.5)"/><rect x="1690.08" y="1243.15" width="4" height="52.45" fill="rgba(239,83,80,0.5)"/><rect x="1695.65" y="1223.97" width="4" height="71.63" fill="rgba(38,166,154,0.5)"/><rect x="1701.22" y="1165.59" width="4" height="130.01" fill="rgba(38,166,154,0.5)"/><rect x="1706.79" y="1132.23" width="4" height="163.37" fill="rgba(239,83,80,0.5)"/><rect x="1712.36" y="1146.24" width="4" height="149.36" fill="rgba(38,166,154,0.5)"/><rect x="1717.93" y="1182.94" width="4" height="112.66" fill="rgba(38,166,154,0.5)"/><rect x="1723.5" y="1250.99" width="4" height="44.61" fill="rgba(38,166,154,0.5)"/></g>
<g clip-path="url(#pc)"><rect x="14.83" y="346.77" width="1.55" height="44.91" fill="#f23645"/><rect x="13.26" y="348.43" width="4.7" height="8.34" fill="#f23645"/><rect x="20.05" y="309.58" width="1.55" height="52.19" fill="#089981"/><rect x="18.48" y="321.75" width="4.7" height="33.68" fill="#089981"/><rect x="25.62" y="273.06" width="1.55" height="49.02" fill="#089981"/><rect x="24.05" y="280.07" width="4.7" height="42.02" fill="#089981"/><rect x="31.2" y="169.18" width="1.55" height="112.89" fill="#089981"/><rect x="29.62" y="240.05" width="4.7" height="42.02" fill="#089981"/><rect x="36.77" y="172.18" width="1.55" height="78.71" fill="#089981"/><rect x="35.19" y="200.03" width="4.7" height="40.85" fill="#089981"/><rect x="42.34" y="187.85" width="1.55" height="37.52" fill="#f23645"/><rect x="40.76" y="200.03" width="4.7" height="15.84" fill="#f23645"/><rect x="47.91" y="207.2" width="1.55" height="174.09" fill="#f23645"/><rect x="46.33" y="215.87" width="4.7" height="91.38" fill="#f23645"/><rect x="53.48" y="235.88" width="1.55" height="76.2" fill="#089981"/><rect x="51.9" y="248.05" width="4.7" height="60.03" fill="#089981"/><rect x="59.05" y="197.86" width="1.55" height="58.53" fill="#089981"/><rect x="57.47" y="197.86" width="4.7" height="50.86" fill="#089981"/><rect x="64.61" y="176.68" width="1.55" height="46.19" fill="#089981"/><rect x="63.04" y="178.01" width="4.7" height="20.01" fill="#089981"/><rect x="70.19" y="173.01" width="1.55" height="76.54" fill="#f23645"/><rect x="68.61" y="178.01" width="4.7" height="23.18" fill="#f23645"/><rect x="75.75" y="192.52" width="1.55" height="47.02" fill="#f23645"/><rect x="74.18" y="201.19" width="4.7" height="10.17" fill="#f23645"/><rect x="81.33" y="208.03" width="1.55" height="109.55" fill="#f23645"/><rect x="79.75" y="211.03" width="4.7" height="37.69" fill="#f23645"/><rect x="86.89" y="233.38" width="1.55" height="59.53" fill="#089981"/><rect x="85.32" y="237.21" width="4.7" height="12.34" fill="#089981"/><rect x="92.47" y="235.88" width="1.55" height="33.68" fill="#f23645"/><rect x="90.89" y="237.04" width="4.7" height="16.01" fill="#f23645"/><rect x="98.04" y="249.22" width="1.55" height="46.69" fill="#f23645"/><rect x="96.46" y="252.88" width="4.7" height="26.85" fill="#f23645"/><rect x="103.61" y="262.22" width="1.55" height="102.05" fill="#f23645"/><rect x="102.03" y="279.23" width="4.7" height="84.21" fill="#f23645"/><rect x="109.17" y="294.74" width="1.55" height="75.7" fill="#089981"/><rect x="107.6" y="306.24" width="4.7" height="57.2" fill="#089981"/><rect x="114.75" y="299.24" width="1.55" height="124.45" fill="#f23645"/><rect x="113.17" y="306.24" width="4.7" height="85.1" fill="#f23645"/><rect x="120.32" y="389.18" width="1.55" height="119.73" fill="#f23645"/><rect x="118.74" y="391.34" width="4.7" height="51.19" fill="#f23645"/><rect x="125.89" y="420.36" width="1.55" height="59.2" fill="#f23645"/><rect x="124.31" y="442.87" width="4.7" height="24.18" fill="#f23645"/><rect x="131.45" y="450.71" width="1.55" height="92.71" fill="#f23645"/><rect x="129.88" y="466.21" width="4.7" height="67.7" fill="#f23645"/><rect x="137.03" y="484.72" width="1.55" height="88.71" fill="#089981"/><rect x="135.45" y="500.07" width="4.7" height="33.85" fill="#089981"/><rect x="142.59" y="451.21" width="1.55" height="55.53" fill="#089981"/><rect x="141.02" y="470.05" width="4.7" height="31.68" fill="#089981"/><rect x="148.16" y="465.38" width="1.55" height="53.03" fill="#f23645"/><rect x="146.59" y="470.05" width="4.7" height="20.51" fill="#f23645"/><rect x="153.73" y="433.37" width="1.55" height="68.87" fill="#089981"/><rect x="152.16" y="437.2" width="4.7" height="53.36" fill="#089981"/><rect x="159.3" y="388.34" width="1.55" height="74.2" fill="#089981"/><rect x="157.73" y="428.03" width="4.7" height="6.67" fill="#089981"/><rect x="164.88" y="427.2" width="1.55" height="47.36" fill="#f23645"/><rect x="163.3" y="430.36" width="4.7" height="34.68" fill="#f23645"/><rect x="170.44" y="438.03" width="1.55" height="67.37" fill="#089981"/><rect x="168.87" y="441.2" width="4.7" height="24.68" fill="#089981"/><rect x="176.01" y="400.85" width="1.55" height="82.87" fill="#089981"/><rect x="174.44" y="415.02" width="4.7" height="27.51" fill="#089981"/><rect x="181.59" y="396.35" width="1.55" height="36.69" fill="#f23645"/><rect x="180.01" y="414.19" width="4.7" height="15.01" fill="#f23645"/><rect x="187.16" y="408.69" width="1.55" height="34.68" fill="#089981"/><rect x="185.58" y="410.02" width="4.7" height="18.84" fill="#089981"/><rect x="192.72" y="402.18" width="1.55" height="17.01" fill="#089981"/><rect x="191.15" y="406.35" width="4.7" height="4.5" fill="#089981"/><rect x="198.29" y="405.52" width="1.55" height="57.03" fill="#f23645"/><rect x="196.72" y="406.35" width="4.7" height="56.19" fill="#f23645"/><rect x="203.86" y="449.21" width="1.55" height="50.53" fill="#f23645"/><rect x="202.29" y="461.38" width="4.7" height="8.34" fill="#f23645"/><rect x="209.44" y="417.19" width="1.55" height="54.86" fill="#089981"/><rect x="207.86" y="429.7" width="4.7" height="40.02" fill="#089981"/><rect x="215" y="406.18" width="1.55" height="29.35" fill="#089981"/><rect x="213.43" y="422.03" width="4.7" height="7.67" fill="#089981"/><rect x="220.57" y="411.69" width="1.55" height="27.85" fill="#089981"/><rect x="219" y="418.36" width="4.7" height="4.17" fill="#089981"/><rect x="226.15" y="417.52" width="1.55" height="32.18" fill="#f23645"/><rect x="224.57" y="418.02" width="4.7" height="12.51" fill="#f23645"/><rect x="231.72" y="379.17" width="1.55" height="59.53" fill="#089981"/><rect x="230.14" y="380.01" width="4.7" height="50.53" fill="#089981"/><rect x="237.28" y="280.07" width="1.55" height="113.61" fill="#089981"/><rect x="235.71" y="288.07" width="4.7" height="92.55" fill="#089981"/><rect x="242.85" y="284.23" width="1.55" height="53.69" fill="#f23645"/><rect x="241.28" y="288.07" width="4.7" height="47.52" fill="#f23645"/><rect x="248.42" y="264.56" width="1.55" height="87.21" fill="#089981"/><rect x="246.85" y="270.06" width="4.7" height="65.53" fill="#089981"/><rect x="254" y="221.2" width="1.55" height="48.52" fill="#089981"/><rect x="252.42" y="235.04" width="4.7" height="34.68" fill="#089981"/><rect x="259.57" y="231.21" width="1.55" height="16.68" fill="#f23645"/><rect x="257.99" y="234.21" width="4.7" height="3.67" fill="#f23645"/><rect x="265.14" y="230.37" width="1.55" height="29.18" fill="#f23645"/><rect x="263.56" y="236.64" width="4.7" height="1.3" fill="#f23645"/><rect x="270.71" y="202.53" width="1.55" height="41.35" fill="#089981"/><rect x="269.13" y="213.37" width="4.7" height="25.35" fill="#089981"/><rect x="276.28" y="167.51" width="1.55" height="46.19" fill="#089981"/><rect x="274.7" y="174.68" width="4.7" height="39.02" fill="#089981"/><rect x="281.85" y="170.84" width="1.55" height="70.04" fill="#f23645"/><rect x="280.27" y="174.68" width="4.7" height="47.02" fill="#f23645"/><rect x="287.42" y="180.02" width="1.55" height="47.02" fill="#089981"/><rect x="285.84" y="197.19" width="4.7" height="24.51" fill="#089981"/><rect x="292.99" y="188.02" width="1.55" height="30.85" fill="#f23645"/><rect x="291.41" y="197.19" width="4.7" height="14.84" fill="#f23645"/><rect x="298.56" y="188.69" width="1.55" height="31.35" fill="#089981"/><rect x="296.98" y="194.69" width="4.7" height="16.68" fill="#089981"/><rect x="304.12" y="186.18" width="1.55" height="82.54" fill="#f23645"/><rect x="302.55" y="194.19" width="4.7" height="37.52" fill="#f23645"/><rect x="309.7" y="221.2" width="1.55" height="42.19" fill="#f23645"/><rect x="308.12" y="231.21" width="4.7" height="25.01" fill="#f23645"/><rect x="315.27" y="231.21" width="1.55" height="26.68" fill="#089981"/><rect x="313.69" y="241.21" width="4.7" height="15.51" fill="#089981"/><rect x="320.84" y="239.21" width="1.55" height="20.34" fill="#f23645"/><rect x="319.26" y="240.05" width="4.7" height="9.5" fill="#f23645"/><rect x="326.41" y="244.55" width="1.55" height="56.86" fill="#f23645"/><rect x="324.83" y="250.05" width="4.7" height="38.69" fill="#f23645"/><rect x="331.98" y="244.18" width="1.55" height="56.36" fill="#089981"/><rect x="330.4" y="247.51" width="4.7" height="41.19" fill="#089981"/><rect x="337.55" y="246.68" width="1.55" height="103.39" fill="#f23645"/><rect x="335.97" y="247.51" width="4.7" height="91.71" fill="#f23645"/><rect x="343.12" y="332.89" width="1.55" height="118.89" fill="#f23645"/><rect x="341.54" y="339.73" width="4.7" height="51.53" fill="#f23645"/><rect x="348.69" y="382.08" width="1.55" height="48.86" fill="#f23645"/><rect x="347.11" y="390.92" width="4.7" height="18.01" fill="#f23645"/><rect x="354.26" y="405.43" width="1.55" height="36.35" fill="#f23645"/><rect x="352.68" y="408.93" width="4.7" height="24.01" fill="#f23645"/><rect x="359.83" y="393.09" width="1.55" height="56.53" fill="#f23645"/><rect x="358.25" y="431.71" width="4.7" height="1.3" fill="#f23645"/><rect x="365.4" y="423.94" width="1.55" height="108.62" fill="#f23645"/><rect x="363.82" y="433.44" width="4.7" height="88.27" fill="#f23645"/><rect x="370.97" y="490.03" width="1.55" height="121.73" fill="#f23645"/><rect x="369.39" y="521.21" width="4.7" height="77.21" fill="#f23645"/><rect x="376.54" y="567.07" width="1.55" height="223.52" fill="#f23645"/><rect x="374.96" y="597.25" width="4.7" height="73.61" fill="#f23645"/><rect x="382.11" y="646.06" width="1.55" height="63.98" fill="#f23645"/><rect x="380.53" y="669.63" width="4.7" height="1.3" fill="#f23645"/><rect x="387.68" y="660.73" width="1.55" height="89.66" fill="#f23645"/><rect x="386.1" y="670.86" width="4.7" height="52.86" fill="#f23645"/><rect x="393.25" y="709.54" width="1.55" height="56.36" fill="#f23645"/><rect x="391.67" y="723.72" width="4.7" height="5" fill="#f23645"/><rect x="398.82" y="698.04" width="1.55" height="39.85" fill="#089981"/><rect x="397.24" y="720.38" width="4.7" height="8.34" fill="#089981"/><rect x="404.39" y="705.04" width="1.55" height="45.36" fill="#f23645"/><rect x="402.81" y="720.38" width="4.7" height="13.51" fill="#f23645"/><rect x="409.96" y="687.2" width="1.55" height="51.53" fill="#089981"/><rect x="408.38" y="701.21" width="4.7" height="32.18" fill="#089981"/><rect x="415.53" y="683.03" width="1.55" height="40.35" fill="#089981"/><rect x="413.95" y="702.14" width="4.7" height="1.3" fill="#089981"/><rect x="421.1" y="693.37" width="1.55" height="79.21" fill="#f23645"/><rect x="419.52" y="703.38" width="4.7" height="64.2" fill="#f23645"/><rect x="426.67" y="763.91" width="1.55" height="187.84" fill="#f23645"/><rect x="425.09" y="766.74" width="4.7" height="37.85" fill="#f23645"/><rect x="432.24" y="707.04" width="1.55" height="119.39" fill="#089981"/><rect x="430.66" y="779.25" width="4.7" height="24.68" fill="#089981"/><rect x="437.81" y="714.21" width="1.55" height="64.2" fill="#089981"/><rect x="436.23" y="719.72" width="4.7" height="58.7" fill="#089981"/><rect x="443.38" y="661.35" width="1.55" height="75.04" fill="#089981"/><rect x="441.8" y="691.7" width="4.7" height="30.02" fill="#089981"/><rect x="448.95" y="681.7" width="1.55" height="55.53" fill="#f23645"/><rect x="447.37" y="691.7" width="4.7" height="2.83" fill="#f23645"/><rect x="454.52" y="653.85" width="1.55" height="43.69" fill="#089981"/><rect x="452.94" y="678.36" width="4.7" height="14.51" fill="#089981"/><rect x="460.09" y="624.17" width="1.55" height="70.37" fill="#089981"/><rect x="458.51" y="635.01" width="4.7" height="44.52" fill="#089981"/><rect x="465.66" y="634.17" width="1.55" height="56.36" fill="#f23645"/><rect x="464.08" y="635.01" width="4.7" height="48.69" fill="#f23645"/><rect x="471.23" y="677.2" width="1.55" height="173.42" fill="#f23645"/><rect x="469.65" y="683.03" width="4.7" height="130.73" fill="#f23645"/><rect x="476.8" y="747.56" width="1.55" height="83.38" fill="#f23645"/><rect x="475.22" y="812.1" width="4.7" height="2.5" fill="#f23645"/><rect x="482.37" y="770.08" width="1.55" height="140.48" fill="#f23645"/><rect x="480.79" y="813.93" width="4.7" height="72.78" fill="#f23645"/><rect x="487.94" y="865.37" width="1.55" height="63.37" fill="#f23645"/><rect x="486.36" y="885.88" width="4.7" height="15.51" fill="#f23645"/><rect x="493.51" y="847.4" width="1.55" height="63.99" fill="#089981"/><rect x="491.93" y="889.21" width="4.7" height="12.84" fill="#089981"/><rect x="499.08" y="781.75" width="1.55" height="108.3" fill="#089981"/><rect x="497.5" y="800.92" width="4.7" height="88.29" fill="#089981"/><rect x="504.65" y="795.59" width="1.55" height="139.98" fill="#f23645"/><rect x="503.07" y="801.76" width="4.7" height="126.14" fill="#f23645"/><rect x="510.22" y="860.86" width="1.55" height="67.03" fill="#089981"/><rect x="508.64" y="881.71" width="4.7" height="46.19" fill="#089981"/><rect x="515.79" y="825.1" width="1.55" height="85.45" fill="#089981"/><rect x="514.21" y="835.9" width="4.7" height="46.14" fill="#089981"/><rect x="521.36" y="810.93" width="1.55" height="56.6" fill="#089981"/><rect x="519.78" y="812.6" width="4.7" height="22.97" fill="#089981"/><rect x="526.93" y="789.25" width="1.55" height="31.68" fill="#089981"/><rect x="525.35" y="800.09" width="4.7" height="13.67" fill="#089981"/><rect x="532.5" y="723.39" width="1.55" height="76.71" fill="#089981"/><rect x="530.92" y="747.06" width="4.7" height="53.03" fill="#089981"/><rect x="538.07" y="735.89" width="1.55" height="39.19" fill="#f23645"/><rect x="536.49" y="746.23" width="4.7" height="9.67" fill="#f23645"/><rect x="543.63" y="717.22" width="1.55" height="50.86" fill="#089981"/><rect x="542.06" y="748.4" width="4.7" height="7.5" fill="#089981"/><rect x="549.21" y="741.23" width="1.55" height="51.03" fill="#f23645"/><rect x="547.63" y="748.4" width="4.7" height="28.85" fill="#f23645"/><rect x="554.78" y="757.57" width="1.55" height="65.03" fill="#f23645"/><rect x="553.2" y="777.08" width="4.7" height="12.67" fill="#f23645"/><rect x="560.35" y="766.24" width="1.55" height="43.86" fill="#f23645"/><rect x="558.77" y="789.25" width="4.7" height="17.51" fill="#f23645"/><rect x="565.92" y="780.91" width="1.55" height="29.18" fill="#089981"/><rect x="564.34" y="788.08" width="4.7" height="19.84" fill="#089981"/><rect x="571.49" y="750.07" width="1.55" height="47.86" fill="#089981"/><rect x="569.91" y="770.08" width="4.7" height="18.84" fill="#089981"/><rect x="577.06" y="765.07" width="1.55" height="28.85" fill="#f23645"/><rect x="575.48" y="770.08" width="4.7" height="3.67" fill="#f23645"/><rect x="582.62" y="729.72" width="1.55" height="54.86" fill="#089981"/><rect x="581.05" y="730.56" width="4.7" height="43.19" fill="#089981"/><rect x="588.2" y="672.19" width="1.55" height="58.7" fill="#089981"/><rect x="586.62" y="723.72" width="4.7" height="7.17" fill="#089981"/><rect x="593.76" y="707.21" width="1.55" height="60.86" fill="#f23645"/><rect x="592.19" y="723.05" width="4.7" height="41.19" fill="#f23645"/><rect x="599.34" y="712.21" width="1.55" height="52.03" fill="#089981"/><rect x="597.76" y="718.38" width="4.7" height="45.86" fill="#089981"/><rect x="604.91" y="698.71" width="1.55" height="30.02" fill="#089981"/><rect x="603.33" y="700.87" width="4.7" height="17.18" fill="#089981"/><rect x="610.48" y="698.87" width="1.55" height="49.19" fill="#f23645"/><rect x="608.9" y="700.04" width="4.7" height="33.02" fill="#f23645"/><rect x="616.05" y="707.04" width="1.55" height="28.85" fill="#089981"/><rect x="614.47" y="730.39" width="4.7" height="1.33" fill="#089981"/><rect x="621.62" y="690.04" width="1.55" height="61.36" fill="#089981"/><rect x="620.04" y="695.04" width="4.7" height="37.85" fill="#089981"/><rect x="627.19" y="645.01" width="1.55" height="52.53" fill="#089981"/><rect x="625.61" y="658.35" width="4.7" height="37.02" fill="#089981"/><rect x="632.75" y="637.18" width="1.55" height="40.69" fill="#089981"/><rect x="631.18" y="651.35" width="4.7" height="7.5" fill="#089981"/><rect x="638.33" y="643.85" width="1.55" height="30.68" fill="#f23645"/><rect x="636.75" y="651.68" width="4.7" height="13.34" fill="#f23645"/><rect x="643.9" y="650.52" width="1.55" height="47.86" fill="#f23645"/><rect x="642.32" y="663.86" width="4.7" height="19.84" fill="#f23645"/><rect x="649.47" y="669.19" width="1.55" height="30.85" fill="#089981"/><rect x="647.89" y="673.86" width="4.7" height="9.84" fill="#089981"/><rect x="655.04" y="660.85" width="1.55" height="22.18" fill="#f23645"/><rect x="653.46" y="673.36" width="4.7" height="4.5" fill="#f23645"/><rect x="660.61" y="672.19" width="1.55" height="44.86" fill="#f23645"/><rect x="659.03" y="677.03" width="4.7" height="37.19" fill="#f23645"/><rect x="666.18" y="695.54" width="1.55" height="40.02" fill="#089981"/><rect x="664.6" y="698.87" width="4.7" height="14.84" fill="#089981"/><rect x="671.75" y="683.37" width="1.55" height="44.69" fill="#f23645"/><rect x="670.17" y="693.87" width="4.7" height="25.01" fill="#f23645"/><rect x="677.32" y="702.87" width="1.55" height="36.85" fill="#089981"/><rect x="675.74" y="706.38" width="4.7" height="12.34" fill="#089981"/><rect x="682.89" y="681.36" width="1.55" height="33.35" fill="#089981"/><rect x="681.31" y="683.37" width="4.7" height="23.35" fill="#089981"/><rect x="688.46" y="659.19" width="1.55" height="67.03" fill="#f23645"/><rect x="686.88" y="683.87" width="4.7" height="29.01" fill="#f23645"/><rect x="694.03" y="712.05" width="1.55" height="19.68" fill="#f23645"/><rect x="692.45" y="712.55" width="4.7" height="19.18" fill="#f23645"/><rect x="699.6" y="702.21" width="1.55" height="33.35" fill="#089981"/><rect x="698.02" y="704.54" width="4.7" height="27.18" fill="#089981"/><rect x="705.17" y="702.54" width="1.55" height="43.36" fill="#f23645"/><rect x="703.59" y="704.71" width="4.7" height="22.84" fill="#f23645"/><rect x="710.74" y="713.38" width="1.55" height="33.35" fill="#f23645"/><rect x="709.16" y="727.55" width="4.7" height="15.34" fill="#f23645"/><rect x="716.31" y="741.39" width="1.55" height="48.69" fill="#f23645"/><rect x="714.73" y="742.23" width="4.7" height="25.68" fill="#f23645"/><rect x="721.88" y="759.24" width="1.55" height="55.36" fill="#f23645"/><rect x="720.3" y="768.41" width="4.7" height="37.02" fill="#f23645"/><rect x="727.45" y="797.09" width="1.55" height="63.43" fill="#f23645"/><rect x="725.87" y="804.26" width="4.7" height="19.51" fill="#f23645"/><rect x="733.02" y="805.93" width="1.55" height="40.85" fill="#f23645"/><rect x="731.44" y="822.93" width="4.7" height="10.51" fill="#f23645"/><rect x="738.59" y="812.1" width="1.55" height="36.02" fill="#f23645"/><rect x="737.01" y="832.94" width="4.7" height="13.01" fill="#f23645"/><rect x="744.16" y="822.93" width="1.55" height="45.42" fill="#089981"/><rect x="742.58" y="831.27" width="4.7" height="14.67" fill="#089981"/><rect x="749.73" y="764.74" width="1.55" height="70.04" fill="#089981"/><rect x="748.15" y="788.92" width="4.7" height="42.85" fill="#089981"/><rect x="755.3" y="705.04" width="1.55" height="90.55" fill="#089981"/><rect x="753.72" y="738.06" width="4.7" height="50.86" fill="#089981"/><rect x="760.87" y="678.36" width="1.55" height="69.2" fill="#089981"/><rect x="759.29" y="715.05" width="4.7" height="24.51" fill="#089981"/><rect x="766.44" y="684.7" width="1.55" height="39.19" fill="#089981"/><rect x="764.86" y="687.53" width="4.7" height="27.85" fill="#089981"/><rect x="772" y="670.03" width="1.55" height="36.18" fill="#f23645"/><rect x="770.43" y="687.03" width="4.7" height="4.34" fill="#f23645"/><rect x="777.58" y="680.03" width="1.55" height="59.7" fill="#f23645"/><rect x="776" y="690.87" width="4.7" height="45.36" fill="#f23645"/><rect x="783.15" y="722.88" width="1.55" height="25.18" fill="#089981"/><rect x="781.57" y="730.06" width="4.7" height="5.84" fill="#089981"/><rect x="788.72" y="715.05" width="1.55" height="32.52" fill="#f23645"/><rect x="787.14" y="730.56" width="4.7" height="13.67" fill="#f23645"/><rect x="794.29" y="722.05" width="1.55" height="36.85" fill="#089981"/><rect x="792.71" y="727.55" width="4.7" height="16.17" fill="#089981"/><rect x="799.86" y="732.06" width="1.55" height="95.21" fill="#f23645"/><rect x="798.28" y="762.24" width="4.7" height="27.85" fill="#f23645"/><rect x="805.43" y="775.41" width="1.55" height="55.53" fill="#f23645"/><rect x="803.85" y="790.09" width="4.7" height="35.85" fill="#f23645"/><rect x="811" y="784.25" width="1.55" height="53.69" fill="#089981"/><rect x="809.42" y="790.09" width="4.7" height="35.85" fill="#089981"/><rect x="816.57" y="756.23" width="1.55" height="46.86" fill="#089981"/><rect x="814.99" y="788.02" width="4.7" height="1.3" fill="#089981"/><rect x="822.14" y="787.92" width="1.55" height="25.51" fill="#f23645"/><rect x="820.56" y="788.75" width="4.7" height="22.18" fill="#f23645"/><rect x="827.71" y="788.75" width="1.55" height="34.68" fill="#f23645"/><rect x="826.13" y="810.6" width="4.7" height="4" fill="#f23645"/><rect x="833.28" y="810.43" width="1.55" height="36.85" fill="#f23645"/><rect x="831.7" y="813.93" width="4.7" height="1.5" fill="#f23645"/><rect x="838.85" y="783.08" width="1.55" height="33.18" fill="#089981"/><rect x="837.27" y="794.25" width="4.7" height="22.01" fill="#089981"/><rect x="844.42" y="782.25" width="1.55" height="23.35" fill="#f23645"/><rect x="842.84" y="794.25" width="4.7" height="2.17" fill="#f23645"/><rect x="849.99" y="793.42" width="1.55" height="33.02" fill="#f23645"/><rect x="848.41" y="797.09" width="4.7" height="19.18" fill="#f23645"/><rect x="855.56" y="812.93" width="1.55" height="96.61" fill="#f23645"/><rect x="853.98" y="815.93" width="4.7" height="52.75" fill="#f23645"/><rect x="861.13" y="854.68" width="1.55" height="42.35" fill="#f23645"/><rect x="859.55" y="868.69" width="4.7" height="8" fill="#f23645"/><rect x="866.7" y="859.18" width="1.55" height="40.02" fill="#f23645"/><rect x="865.12" y="876.69" width="4.7" height="4.67" fill="#f23645"/><rect x="872.27" y="873.36" width="1.55" height="53.69" fill="#f23645"/><rect x="870.69" y="881.36" width="4.7" height="28.18" fill="#f23645"/><rect x="877.84" y="862.18" width="1.55" height="50.36" fill="#089981"/><rect x="876.26" y="864.18" width="4.7" height="46.36" fill="#089981"/><rect x="883.41" y="854.68" width="1.55" height="76.2" fill="#f23645"/><rect x="881.83" y="864.18" width="4.7" height="48.69" fill="#f23645"/><rect x="888.98" y="910.54" width="1.55" height="84.04" fill="#f23645"/><rect x="887.4" y="913.88" width="4.7" height="70.7" fill="#f23645"/><rect x="894.55" y="972.57" width="1.55" height="45.86" fill="#089981"/><rect x="892.97" y="979.57" width="4.7" height="5" fill="#089981"/><rect x="900.12" y="957.9" width="1.55" height="34.35" fill="#089981"/><rect x="898.54" y="960.4" width="4.7" height="19.18" fill="#089981"/><rect x="905.69" y="940.06" width="1.55" height="38.35" fill="#089981"/><rect x="904.11" y="945.06" width="4.7" height="16.17" fill="#089981"/><rect x="911.26" y="937.89" width="1.55" height="24.68" fill="#f23645"/><rect x="909.68" y="945.06" width="4.7" height="15.84" fill="#f23645"/><rect x="916.83" y="947.23" width="1.55" height="41.19" fill="#f23645"/><rect x="915.25" y="960.07" width="4.7" height="19.68" fill="#f23645"/><rect x="922.4" y="957.9" width="1.55" height="44.36" fill="#f23645"/><rect x="920.82" y="979.57" width="4.7" height="16.34" fill="#f23645"/><rect x="927.97" y="966.23" width="1.55" height="36.02" fill="#089981"/><rect x="926.39" y="980.08" width="4.7" height="12.84" fill="#089981"/><rect x="933.54" y="949.23" width="1.55" height="45.36" fill="#089981"/><rect x="931.96" y="962.57" width="4.7" height="18.01" fill="#089981"/><rect x="939.11" y="938.39" width="1.55" height="77.21" fill="#089981"/><rect x="937.53" y="944.56" width="4.7" height="17.51" fill="#089981"/><rect x="944.68" y="917.21" width="1.55" height="33.18" fill="#089981"/><rect x="943.1" y="935.39" width="4.7" height="9.34" fill="#089981"/><rect x="950.25" y="930.03" width="1.55" height="69.2" fill="#f23645"/><rect x="948.67" y="936.19" width="4.7" height="56.7" fill="#f23645"/><rect x="955.82" y="970.05" width="1.55" height="23.35" fill="#089981"/><rect x="954.24" y="974.21" width="4.7" height="19.18" fill="#089981"/><rect x="961.39" y="970.88" width="1.55" height="62.86" fill="#f23645"/><rect x="959.81" y="974.21" width="4.7" height="39.52" fill="#f23645"/><rect x="966.96" y="999.73" width="1.55" height="43.69" fill="#f23645"/><rect x="965.38" y="1013.73" width="4.7" height="14.34" fill="#f23645"/><rect x="972.53" y="1023.74" width="1.55" height="63.03" fill="#f23645"/><rect x="970.95" y="1028.41" width="4.7" height="49.69" fill="#f23645"/><rect x="978.1" y="1065.59" width="1.55" height="56.1" fill="#f23645"/><rect x="976.52" y="1078.1" width="4.7" height="21.13" fill="#f23645"/><rect x="983.67" y="1092.11" width="1.55" height="81.78" fill="#f23645"/><rect x="982.09" y="1100.11" width="4.7" height="72.78" fill="#f23645"/><rect x="989.24" y="1143.04" width="1.55" height="51.69" fill="#089981"/><rect x="987.66" y="1156.21" width="4.7" height="15.84" fill="#089981"/><rect x="994.81" y="1102.11" width="1.55" height="63.78" fill="#089981"/><rect x="993.23" y="1111.24" width="4.7" height="45.14" fill="#089981"/><rect x="1000.38" y="1104.28" width="1.55" height="39.43" fill="#f23645"/><rect x="998.8" y="1111.24" width="4.7" height="7.13" fill="#f23645"/><rect x="1005.95" y="1104.28" width="1.55" height="50.27" fill="#f23645"/><rect x="1004.37" y="1118.03" width="4.7" height="22.51" fill="#f23645"/><rect x="1011.52" y="1082.6" width="1.55" height="58.27" fill="#089981"/><rect x="1009.94" y="1086.44" width="4.7" height="54.44" fill="#089981"/><rect x="1017.09" y="1054.75" width="1.55" height="39.02" fill="#089981"/><rect x="1015.51" y="1063.09" width="4.7" height="23.68" fill="#089981"/><rect x="1022.66" y="1021.24" width="1.55" height="46.86" fill="#089981"/><rect x="1021.08" y="1031.41" width="4.7" height="32.35" fill="#089981"/><rect x="1028.22" y="1029.74" width="1.55" height="30.68" fill="#f23645"/><rect x="1026.65" y="1032.08" width="4.7" height="13.51" fill="#f23645"/><rect x="1033.8" y="1019.74" width="1.55" height="32.02" fill="#089981"/><rect x="1032.22" y="1037.08" width="4.7" height="8" fill="#089981"/><rect x="1039.37" y="1033.08" width="1.55" height="39.02" fill="#f23645"/><rect x="1037.79" y="1036.75" width="4.7" height="12.84" fill="#f23645"/><rect x="1044.93" y="1036.24" width="1.55" height="24.18" fill="#089981"/><rect x="1043.36" y="1041.41" width="4.7" height="8.17" fill="#089981"/><rect x="1050.5" y="1040.08" width="1.55" height="23.35" fill="#f23645"/><rect x="1048.93" y="1042.08" width="4.7" height="16.68" fill="#f23645"/><rect x="1056.08" y="1040.08" width="1.55" height="94.96" fill="#f23645"/><rect x="1054.5" y="1057.09" width="4.7" height="38.85" fill="#f23645"/><rect x="1061.64" y="1025.41" width="1.55" height="71.37" fill="#089981"/><rect x="1060.07" y="1031.41" width="4.7" height="64.87" fill="#089981"/><rect x="1067.21" y="995.56" width="1.55" height="47.86" fill="#089981"/><rect x="1065.64" y="1010.4" width="4.7" height="22.18" fill="#089981"/><rect x="1072.78" y="1000.39" width="1.55" height="29.18" fill="#f23645"/><rect x="1071.21" y="1010.9" width="4.7" height="2.5" fill="#f23645"/><rect x="1078.36" y="1011.73" width="1.55" height="63.37" fill="#f23645"/><rect x="1076.78" y="1013.4" width="4.7" height="27.01" fill="#f23645"/><rect x="1083.92" y="1016.74" width="1.55" height="28.01" fill="#089981"/><rect x="1082.35" y="1034.74" width="4.7" height="5.84" fill="#089981"/><rect x="1089.49" y="1031.41" width="1.55" height="29.01" fill="#f23645"/><rect x="1087.92" y="1035.08" width="4.7" height="24.68" fill="#f23645"/><rect x="1095.07" y="1029.24" width="1.55" height="31.35" fill="#089981"/><rect x="1093.49" y="1037.08" width="4.7" height="22.68" fill="#089981"/><rect x="1100.63" y="990.39" width="1.55" height="52.19" fill="#089981"/><rect x="1099.06" y="1003.4" width="4.7" height="33.68" fill="#089981"/><rect x="1106.2" y="955.04" width="1.55" height="55.86" fill="#089981"/><rect x="1104.63" y="956.2" width="4.7" height="48.36" fill="#089981"/><rect x="1111.77" y="920.52" width="1.55" height="37.02" fill="#089981"/><rect x="1110.2" y="924.19" width="4.7" height="32.52" fill="#089981"/><rect x="1117.35" y="897.18" width="1.55" height="33.68" fill="#089981"/><rect x="1115.77" y="909.18" width="4.7" height="15.01" fill="#089981"/><rect x="1122.91" y="897.18" width="1.55" height="26.18" fill="#f23645"/><rect x="1121.34" y="908.35" width="4.7" height="1.33" fill="#f23645"/><rect x="1128.48" y="899.68" width="1.55" height="31.18" fill="#f23645"/><rect x="1126.91" y="910.52" width="4.7" height="14.17" fill="#f23645"/><rect x="1134.06" y="895.51" width="1.55" height="35.35" fill="#089981"/><rect x="1132.48" y="905.85" width="4.7" height="18.84" fill="#089981"/><rect x="1139.62" y="905.85" width="1.55" height="48.36" fill="#f23645"/><rect x="1138.05" y="905.85" width="4.7" height="27.18" fill="#f23645"/><rect x="1145.19" y="912.18" width="1.55" height="31.18" fill="#f23645"/><rect x="1143.62" y="933.03" width="4.7" height="9" fill="#f23645"/><rect x="1150.76" y="933.69" width="1.55" height="46.86" fill="#f23645"/><rect x="1149.19" y="941.36" width="4.7" height="32.35" fill="#f23645"/><rect x="1156.34" y="956.2" width="1.55" height="20.51" fill="#f23645"/><rect x="1154.76" y="972.21" width="4.7" height="1.67" fill="#f23645"/><rect x="1161.9" y="963.04" width="1.55" height="25.68" fill="#089981"/><rect x="1160.33" y="970.05" width="4.7" height="4.5" fill="#089981"/><rect x="1167.47" y="943.03" width="1.55" height="135.4" fill="#f23645"/><rect x="1165.9" y="970.05" width="4.7" height="52.86" fill="#f23645"/><rect x="1173.04" y="1000.39" width="1.55" height="107.72" fill="#f23645"/><rect x="1171.47" y="1022.9" width="4.7" height="49.19" fill="#f23645"/><rect x="1178.62" y="1053.92" width="1.55" height="54.53" fill="#f23645"/><rect x="1177.04" y="1072.1" width="4.7" height="32.68" fill="#f23645"/><rect x="1184.18" y="1065.59" width="1.55" height="68.61" fill="#089981"/><rect x="1182.61" y="1080.1" width="4.7" height="26.68" fill="#089981"/><rect x="1189.75" y="1053.92" width="1.55" height="30.85" fill="#089981"/><rect x="1188.18" y="1057.09" width="4.7" height="23.51" fill="#089981"/><rect x="1195.33" y="1032.08" width="1.55" height="56.36" fill="#f23645"/><rect x="1193.75" y="1057.09" width="4.7" height="5.5" fill="#f23645"/><rect x="1200.89" y="1028.07" width="1.55" height="44.52" fill="#f23645"/><rect x="1199.32" y="1062.59" width="4.7" height="5" fill="#f23645"/><rect x="1206.46" y="1066.43" width="1.55" height="54.44" fill="#f23645"/><rect x="1204.89" y="1068.09" width="4.7" height="52.77" fill="#f23645"/><rect x="1212.03" y="1087.27" width="1.55" height="46.93" fill="#089981"/><rect x="1210.46" y="1087.27" width="4.7" height="33.59" fill="#089981"/><rect x="1217.61" y="995.06" width="1.55" height="98.38" fill="#089981"/><rect x="1216.03" y="1015.9" width="4.7" height="71.7" fill="#089981"/><rect x="1223.17" y="1003.4" width="1.55" height="65.03" fill="#f23645"/><rect x="1221.6" y="1015.9" width="4.7" height="17.84" fill="#f23645"/><rect x="1228.74" y="1005.9" width="1.55" height="43.86" fill="#089981"/><rect x="1227.17" y="1006.73" width="4.7" height="28.35" fill="#089981"/><rect x="1234.32" y="1005.06" width="1.55" height="45.36" fill="#f23645"/><rect x="1232.74" y="1006.73" width="4.7" height="32.85" fill="#f23645"/><rect x="1239.88" y="1006.73" width="1.55" height="34.52" fill="#089981"/><rect x="1238.31" y="1007.23" width="4.7" height="32.85" fill="#089981"/><rect x="1245.45" y="933.69" width="1.55" height="74.7" fill="#089981"/><rect x="1243.88" y="961.21" width="4.7" height="47.19" fill="#089981"/><rect x="1251.02" y="957.04" width="1.55" height="56.03" fill="#f23645"/><rect x="1249.45" y="961.21" width="4.7" height="30.85" fill="#f23645"/><rect x="1256.6" y="989.22" width="1.55" height="43.86" fill="#f23645"/><rect x="1255.02" y="992.06" width="4.7" height="19.34" fill="#f23645"/><rect x="1262.16" y="988.74" width="1.55" height="51.86" fill="#f23645"/><rect x="1260.59" y="1010.91" width="4.7" height="29.68" fill="#f23645"/><rect x="1267.73" y="968.06" width="1.55" height="73.2" fill="#089981"/><rect x="1266.16" y="968.73" width="4.7" height="71.87" fill="#089981"/><rect x="1273.31" y="928.04" width="1.55" height="58.2" fill="#089981"/><rect x="1271.73" y="966.39" width="4.7" height="2.83" fill="#089981"/><rect x="1278.88" y="940.55" width="1.55" height="43.36" fill="#089981"/><rect x="1277.3" y="955.39" width="4.7" height="11.34" fill="#089981"/><rect x="1284.44" y="949.22" width="1.55" height="27.85" fill="#f23645"/><rect x="1282.87" y="954.65" width="4.7" height="1.3" fill="#f23645"/><rect x="1290.01" y="921.2" width="1.55" height="49.69" fill="#089981"/><rect x="1288.44" y="949.22" width="4.7" height="7.5" fill="#089981"/><rect x="1295.59" y="922.04" width="1.55" height="36.35" fill="#089981"/><rect x="1294.01" y="925.37" width="4.7" height="25.18" fill="#089981"/><rect x="1301.15" y="905.03" width="1.55" height="22.51" fill="#089981"/><rect x="1299.58" y="910.36" width="4.7" height="16.34" fill="#089981"/><rect x="1306.72" y="902.03" width="1.55" height="23.01" fill="#089981"/><rect x="1305.15" y="908.03" width="4.7" height="2.83" fill="#089981"/><rect x="1312.3" y="862.17" width="1.55" height="73.7" fill="#089981"/><rect x="1310.72" y="880.35" width="4.7" height="28.35" fill="#089981"/><rect x="1317.87" y="869.18" width="1.55" height="51.19" fill="#f23645"/><rect x="1316.29" y="880.35" width="4.7" height="3.5" fill="#f23645"/><rect x="1323.43" y="881.68" width="1.55" height="27.85" fill="#f23645"/><rect x="1321.86" y="882.52" width="4.7" height="24.51" fill="#f23645"/><rect x="1329" y="877.01" width="1.55" height="55.86" fill="#f23645"/><rect x="1327.43" y="906.7" width="4.7" height="13.34" fill="#f23645"/><rect x="1334.58" y="918.87" width="1.55" height="37.02" fill="#f23645"/><rect x="1333" y="919.7" width="4.7" height="17.01" fill="#f23645"/><rect x="1340.14" y="930.04" width="1.55" height="47.02" fill="#f23645"/><rect x="1338.57" y="936.21" width="4.7" height="30.85" fill="#f23645"/><rect x="1345.71" y="936.71" width="1.55" height="45.02" fill="#089981"/><rect x="1344.14" y="947.05" width="4.7" height="20.01" fill="#089981"/><rect x="1351.29" y="935.04" width="1.55" height="36.69" fill="#f23645"/><rect x="1349.71" y="947.05" width="4.7" height="1.67" fill="#f23645"/><rect x="1356.86" y="927.21" width="1.55" height="27.51" fill="#089981"/><rect x="1355.28" y="932.04" width="4.7" height="17.51" fill="#089981"/><rect x="1362.42" y="905.86" width="1.55" height="37.85" fill="#089981"/><rect x="1360.85" y="914.2" width="4.7" height="17.84" fill="#089981"/><rect x="1367.99" y="902.53" width="1.55" height="42.52" fill="#f23645"/><rect x="1366.42" y="915.03" width="4.7" height="22.84" fill="#f23645"/><rect x="1373.57" y="928.87" width="1.55" height="32.52" fill="#f23645"/><rect x="1371.99" y="937.88" width="4.7" height="3.84" fill="#f23645"/><rect x="1379.13" y="923.37" width="1.55" height="27.85" fill="#f23645"/><rect x="1377.56" y="941.38" width="4.7" height="2" fill="#f23645"/><rect x="1384.7" y="935.04" width="1.55" height="20.01" fill="#089981"/><rect x="1383.13" y="936.71" width="4.7" height="7.5" fill="#089981"/><rect x="1390.27" y="883.35" width="1.55" height="57.2" fill="#089981"/><rect x="1388.7" y="911.2" width="4.7" height="26.35" fill="#089981"/><rect x="1395.85" y="884.68" width="1.55" height="52.53" fill="#f23645"/><rect x="1394.27" y="911.2" width="4.7" height="13.84" fill="#f23645"/><rect x="1401.41" y="902.03" width="1.55" height="33.85" fill="#089981"/><rect x="1399.84" y="915.87" width="4.7" height="10.01" fill="#089981"/><rect x="1406.98" y="911.2" width="1.55" height="27.51" fill="#f23645"/><rect x="1405.41" y="916.2" width="4.7" height="16.68" fill="#f23645"/><rect x="1412.56" y="926.71" width="1.55" height="89.71" fill="#f23645"/><rect x="1410.98" y="932.21" width="4.7" height="66.7" fill="#f23645"/><rect x="1418.12" y="951.22" width="1.55" height="48.02" fill="#089981"/><rect x="1416.55" y="964.22" width="4.7" height="35.02" fill="#089981"/><rect x="1423.69" y="937.21" width="1.55" height="31.18" fill="#089981"/><rect x="1422.12" y="958.72" width="4.7" height="6.34" fill="#089981"/><rect x="1429.26" y="947.55" width="1.55" height="29.18" fill="#089981"/><rect x="1427.69" y="956.22" width="4.7" height="3.84" fill="#089981"/><rect x="1434.84" y="944.21" width="1.55" height="22.51" fill="#089981"/><rect x="1433.26" y="954.55" width="4.7" height="1.33" fill="#089981"/><rect x="1440.4" y="953.05" width="1.55" height="52.53" fill="#f23645"/><rect x="1438.83" y="980.4" width="4.7" height="19.68" fill="#f23645"/><rect x="1445.97" y="983.9" width="1.55" height="52.86" fill="#f23645"/><rect x="1444.4" y="1000.08" width="4.7" height="20.01" fill="#f23645"/><rect x="1451.55" y="954.55" width="1.55" height="75.87" fill="#089981"/><rect x="1449.97" y="967.23" width="4.7" height="52.86" fill="#089981"/><rect x="1457.12" y="944.55" width="1.55" height="34.35" fill="#089981"/><rect x="1455.54" y="950.88" width="4.7" height="17.18" fill="#089981"/><rect x="1462.68" y="926.37" width="1.55" height="28.18" fill="#089981"/><rect x="1461.11" y="935.04" width="4.7" height="16.17" fill="#089981"/><rect x="1468.25" y="928.87" width="1.55" height="26.18" fill="#f23645"/><rect x="1466.68" y="935.04" width="4.7" height="16.68" fill="#f23645"/><rect x="1473.83" y="920.37" width="1.55" height="43.52" fill="#089981"/><rect x="1472.25" y="930.04" width="4.7" height="21.18" fill="#089981"/><rect x="1479.39" y="920.04" width="1.55" height="17.84" fill="#089981"/><rect x="1477.82" y="921.7" width="4.7" height="8.84" fill="#089981"/><rect x="1484.96" y="904.69" width="1.55" height="26.18" fill="#089981"/><rect x="1483.39" y="906.36" width="4.7" height="16.17" fill="#089981"/><rect x="1490.54" y="900.03" width="1.55" height="35.85" fill="#f23645"/><rect x="1488.96" y="906.7" width="4.7" height="12.01" fill="#f23645"/><rect x="1496.11" y="903.86" width="1.55" height="69.03" fill="#f23645"/><rect x="1494.53" y="918.03" width="4.7" height="40.02" fill="#f23645"/><rect x="1501.67" y="948.38" width="1.55" height="22.18" fill="#f23645"/><rect x="1500.1" y="958.05" width="4.7" height="3.67" fill="#f23645"/><rect x="1507.24" y="940.88" width="1.55" height="29.68" fill="#089981"/><rect x="1505.67" y="943.05" width="4.7" height="19.01" fill="#089981"/><rect x="1512.82" y="930.54" width="1.55" height="24.51" fill="#089981"/><rect x="1511.24" y="931.21" width="4.7" height="12.51" fill="#089981"/><rect x="1518.38" y="915.87" width="1.55" height="20.51" fill="#089981"/><rect x="1516.81" y="925.04" width="4.7" height="6.67" fill="#089981"/><rect x="1523.95" y="903.86" width="1.55" height="51.53" fill="#089981"/><rect x="1522.38" y="912.03" width="4.7" height="14.34" fill="#089981"/><rect x="1529.52" y="895.52" width="1.55" height="56.19" fill="#f23645"/><rect x="1527.95" y="912.03" width="4.7" height="28.85" fill="#f23645"/><rect x="1535.1" y="930.54" width="1.55" height="38.69" fill="#f23645"/><rect x="1533.52" y="939.98" width="4.7" height="1.3" fill="#f23645"/><rect x="1540.66" y="932.87" width="1.55" height="19.18" fill="#f23645"/><rect x="1539.09" y="941.38" width="4.7" height="5.67" fill="#f23645"/><rect x="1546.23" y="939.21" width="1.55" height="20.51" fill="#089981"/><rect x="1544.66" y="944.54" width="4.7" height="1.33" fill="#089981"/><rect x="1551.81" y="941.12" width="1.55" height="27.27" fill="#f23645"/><rect x="1550.23" y="945.04" width="4.7" height="4.67" fill="#f23645"/><rect x="1557.38" y="927.2" width="1.55" height="22.52" fill="#089981"/><rect x="1555.8" y="937.7" width="4.7" height="12.01" fill="#089981"/><rect x="1562.94" y="937.37" width="1.55" height="21.51" fill="#f23645"/><rect x="1561.37" y="937.7" width="4.7" height="19.01" fill="#f23645"/><rect x="1568.51" y="946.37" width="1.55" height="50.38" fill="#f23645"/><rect x="1566.94" y="956.21" width="4.7" height="8.84" fill="#f23645"/><rect x="1574.09" y="960.05" width="1.55" height="43.37" fill="#f23645"/><rect x="1572.51" y="964.72" width="4.7" height="22.85" fill="#f23645"/><rect x="1579.65" y="970.06" width="1.55" height="31.69" fill="#089981"/><rect x="1578.08" y="985.07" width="4.7" height="2.5" fill="#089981"/><rect x="1585.22" y="984.17" width="1.55" height="25.42" fill="#f23645"/><rect x="1583.65" y="984.17" width="4.7" height="1.3" fill="#f23645"/><rect x="1590.8" y="960.05" width="1.55" height="36.7" fill="#089981"/><rect x="1589.22" y="970.06" width="4.7" height="16.68" fill="#089981"/><rect x="1596.37" y="968.06" width="1.55" height="24.52" fill="#f23645"/><rect x="1594.79" y="970.06" width="4.7" height="19.52" fill="#f23645"/><rect x="1601.93" y="985.57" width="1.55" height="30.03" fill="#f23645"/><rect x="1600.36" y="988.91" width="4.7" height="26.19" fill="#f23645"/><rect x="1607.5" y="983.07" width="1.55" height="45.04" fill="#089981"/><rect x="1605.93" y="989.57" width="4.7" height="25.19" fill="#089981"/><rect x="1613.08" y="966.22" width="1.55" height="29.36" fill="#089981"/><rect x="1611.5" y="971.73" width="4.7" height="18.35" fill="#089981"/><rect x="1618.64" y="957.05" width="1.55" height="21.35" fill="#089981"/><rect x="1617.07" y="967.22" width="4.7" height="4.5" fill="#089981"/><rect x="1624.21" y="960.05" width="1.55" height="18.35" fill="#f23645"/><rect x="1622.64" y="966.22" width="4.7" height="11.34" fill="#f23645"/><rect x="1629.79" y="963.05" width="1.55" height="24.85" fill="#089981"/><rect x="1628.21" y="972.06" width="4.7" height="5.5" fill="#089981"/><rect x="1635.36" y="958.38" width="1.55" height="17.85" fill="#089981"/><rect x="1633.78" y="969.56" width="4.7" height="2.17" fill="#089981"/><rect x="1640.92" y="963.89" width="1.55" height="29.52" fill="#f23645"/><rect x="1639.35" y="969.22" width="4.7" height="21.68" fill="#f23645"/><rect x="1646.49" y="967.06" width="1.55" height="50.21" fill="#f23645"/><rect x="1644.92" y="990.08" width="4.7" height="19.18" fill="#f23645"/><rect x="1652.07" y="1005.09" width="1.55" height="101.75" fill="#f23645"/><rect x="1650.49" y="1009.26" width="4.7" height="39.2" fill="#f23645"/><rect x="1657.63" y="1025.1" width="1.55" height="55.55" fill="#f23645"/><rect x="1656.06" y="1046.79" width="4.7" height="1.33" fill="#f23645"/><rect x="1663.2" y="1008.92" width="1.55" height="39.53" fill="#089981"/><rect x="1661.63" y="1023.1" width="4.7" height="25.35" fill="#089981"/><rect x="1668.78" y="1018.93" width="1.55" height="38.37" fill="#f23645"/><rect x="1667.2" y="1023.1" width="4.7" height="29.52" fill="#f23645"/><rect x="1674.35" y="1048.12" width="1.55" height="52.04" fill="#f23645"/><rect x="1672.77" y="1052.13" width="4.7" height="36.36" fill="#f23645"/><rect x="1679.91" y="1073.98" width="1.55" height="20.68" fill="#f23645"/><rect x="1678.34" y="1086.49" width="4.7" height="1.67" fill="#f23645"/><rect x="1685.48" y="1078.82" width="1.55" height="22.19" fill="#089981"/><rect x="1683.91" y="1085.99" width="4.7" height="3.34" fill="#089981"/><rect x="1691.06" y="1084.82" width="1.55" height="18.68" fill="#f23645"/><rect x="1689.48" y="1086.49" width="4.7" height="13.34" fill="#f23645"/><rect x="1696.62" y="1081.82" width="1.55" height="20.85" fill="#089981"/><rect x="1695.05" y="1093.99" width="4.7" height="7.34" fill="#089981"/><rect x="1702.19" y="1077.15" width="1.55" height="27.69" fill="#089981"/><rect x="1700.62" y="1083.49" width="4.7" height="11.18" fill="#089981"/><rect x="1707.77" y="1063.14" width="1.55" height="31.53" fill="#f23645"/><rect x="1706.19" y="1083.49" width="4.7" height="6.34" fill="#f23645"/><rect x="1713.34" y="1060.13" width="1.55" height="32.53" fill="#089981"/><rect x="1711.76" y="1065.64" width="4.7" height="24.52" fill="#089981"/><rect x="1718.9" y="1030.61" width="1.55" height="37.03" fill="#089981"/><rect x="1717.33" y="1040.12" width="4.7" height="26.19" fill="#089981"/><rect x="1724.47" y="1031.28" width="1.55" height="10.84" fill="#089981"/><rect x="1722.9" y="1034.78" width="4.7" height="5.84" fill="#089981"/></g>
<line x1="15.65" y1="1035.2" x2="1784" y2="1035.2" stroke="#089981" stroke-width="1.6" stroke-dasharray="1.5 3.165"/>
<path d="M18.72 1374.06H36.3V1396.84H27.86V1382.5H18.72Z" fill="#151517"/>
<circle cx="44.45" cy="1378.5" r="4.25" fill="#151517"/>
<path d="M53.87 1374.06H64.56L55.98 1396.84H45.16Z" fill="#151517"/>
<g fill="#151517"><rect x="76.06" y="1374.07" width="16.77" height="4.69"/><rect x="82.16" y="1374.07" width="4.68" height="22.93"/><rect x="93.09" y="1380.3" width="4.59" height="16.7"/><path d="M97.05 1388.4 A6.05 6.05 0 0 1 103.1 1382.35" fill="none" stroke="#151517" stroke-width="4.8"/><circle cx="112.1" cy="1388.66" r="6.55" fill="none" stroke="#151517" stroke-width="4.5"/><rect x="116.27" y="1380.3" width="4.69" height="16.7"/><circle cx="132.42" cy="1388.66" r="6.55" fill="none" stroke="#151517" stroke-width="4.5"/><rect x="136.5" y="1374.07" width="4.5" height="22.93"/><rect x="144.4" y="1380.3" width="4.58" height="16.7"/><circle cx="146.7" cy="1375.95" r="3.0"/><rect x="152.2" y="1380.3" width="4.6" height="16.7"/><rect x="162.95" y="1387" width="4.62" height="10"/><path d="M154.52 1387.64 A5.37 5.37 0 0 1 165.26 1387.64" fill="none" stroke="#151517" stroke-width="4.65"/><circle cx="179.02" cy="1388.66" r="6.55" fill="none" stroke="#151517" stroke-width="4.5"/><rect x="183.19" y="1380.3" width="4.58" height="16"/><path d="M185.48 1396 V1396.2 A6.46 6.46 0 0 1 179.02 1402.62 Q175.6 1402.62 172.7 1400.5" fill="none" stroke="#151517" stroke-width="4.55"/><path d="M187.09 1374.07 H192.3 L198.94 1390.53 L205.58 1374.07 H210.79 L201.54 1397 H196.34Z"/><rect x="212.6" y="1380.3" width="4.44" height="16.7"/><circle cx="214.85" cy="1375.95" r="3.0"/><path d="M233.95 1392.2 A6.5 6.5 0 1 1 235 1388.66" fill="none" stroke="#151517" stroke-width="4.5"/><rect x="223" y="1387.1" width="14.25" height="3.4"/><clipPath id="wc"><rect x="230" y="1380.3" width="40" height="16.7"/></clipPath><path clip-path="url(#wc)" d="M238.68 1375.3 L244.65 1397 L250.48 1380.3 L256.36 1397 L262.28 1375.3" fill="none" stroke="#151517" stroke-width="4.77" stroke-linejoin="miter" stroke-miterlimit="10"/></g>
</svg>
<div id="tx" style="position:absolute;left:0;top:0;width:1920px;height:1433px;will-change:transform;transform:translateZ(0)">
<div class="t" id="title" style="left:15.87px;top:14.87px;font-size:19px;font-weight:400;color:#151517;letter-spacing:0.084px">Đã tạo với TradingView.com, Tháng 11 05, 2025 11:28 UTC+7</div>
<div class="t" id="lg1" style="left:28.62px;top:56.62px;font-size:19px;font-weight:400;color:#151517;letter-spacing:-0.182px">Vàng / Đô la Mỹ · 1h · ICE</div>
<div class="t" id="lgO" style="left:256.6px;top:56.62px;font-size:19px;font-weight:400;color:#151517;letter-spacing:0.000px">O</div>
<div class="t" id="lgOv" style="left:271.28px;top:56.62px;font-size:19px;font-weight:400;color:#089981;letter-spacing:0.717px">3,960.840</div>
<div class="t" id="lgH" style="left:371.74px;top:56.62px;font-size:19px;font-weight:400;color:#151517;letter-spacing:0.000px">H</div>
<div class="t" id="lgHv" style="left:386.78px;top:56.62px;font-size:19px;font-weight:400;color:#089981;letter-spacing:0.680px">3,965.030</div>
<div class="t" id="lgL" style="left:485.94px;top:56.62px;font-size:19px;font-weight:400;color:#151517;letter-spacing:0.000px">L</div>
<div class="t" id="lgLv" style="left:497.28px;top:56.62px;font-size:19px;font-weight:400;color:#089981;letter-spacing:0.749px">3,959.585</div>
<div class="t" id="lgC" style="left:597.04px;top:56.62px;font-size:19px;font-weight:400;color:#151517;letter-spacing:0.000px">C</div>
<div class="t" id="lgCv" style="left:611.78px;top:56.62px;font-size:19px;font-weight:400;color:#089981;letter-spacing:0.367px">3,963.210</div>
<div class="t" id="lgChg" style="left:708.07px;top:56.62px;font-size:19px;font-weight:400;color:#089981;letter-spacing:0.754px">+2.448 (+0.06%)</div>
<div class="t" id="lg2" style="left:27.14px;top:82.62px;font-size:19px;font-weight:400;color:#151517;letter-spacing:0.027px">Khối lượng</div>
<div class="t" id="lg2v" style="left:131.28px;top:82.62px;font-size:19px;font-weight:400;color:#26a69a;letter-spacing:-0.100px">35.7</div>
<div class="t" id="lg2k" style="left:170.44px;top:82.62px;font-size:19px;font-weight:400;color:#26a69a;letter-spacing:0.000px">K</div>
<div class="t" id="p0" style="left:1796.46px;top:65.82px;font-size:19px;font-weight:400;color:#151517;letter-spacing:1.019px">4,425.000</div>
<div class="t" id="p1" style="left:1796.46px;top:117.69px;font-size:19px;font-weight:400;color:#151517;letter-spacing:1.019px">4,400.000</div>
<div class="t" id="p2" style="left:1796.46px;top:169.56px;font-size:19px;font-weight:400;color:#151517;letter-spacing:1.019px">4,375.000</div>
<div class="t" id="p3" style="left:1796.46px;top:221.43px;font-size:19px;font-weight:400;color:#151517;letter-spacing:1.019px">4,350.000</div>
<div class="t" id="p4" style="left:1796.46px;top:273.3px;font-size:19px;font-weight:400;color:#151517;letter-spacing:1.019px">4,325.000</div>
<div class="t" id="p5" style="left:1796.46px;top:325.17px;font-size:19px;font-weight:400;color:#151517;letter-spacing:1.019px">4,300.000</div>
<div class="t" id="p6" style="left:1796.46px;top:377.04px;font-size:19px;font-weight:400;color:#151517;letter-spacing:1.019px">4,275.000</div>
<div class="t" id="p7" style="left:1796.46px;top:428.91px;font-size:19px;font-weight:400;color:#151517;letter-spacing:1.019px">4,250.000</div>
<div class="t" id="p8" style="left:1796.46px;top:480.78px;font-size:19px;font-weight:400;color:#151517;letter-spacing:1.019px">4,225.000</div>
<div class="t" id="p9" style="left:1796.46px;top:532.65px;font-size:19px;font-weight:400;color:#151517;letter-spacing:1.019px">4,200.000</div>
<div class="t" id="p10" style="left:1796.46px;top:584.52px;font-size:19px;font-weight:400;color:#151517;letter-spacing:1.019px">4,175.000</div>
<div class="t" id="p11" style="left:1796.46px;top:636.39px;font-size:19px;font-weight:400;color:#151517;letter-spacing:1.019px">4,150.000</div>
<div class="t" id="p12" style="left:1796.46px;top:688.26px;font-size:19px;font-weight:400;color:#151517;letter-spacing:1.019px">4,125.000</div>
<div class="t" id="p13" style="left:1796.46px;top:740.13px;font-size:19px;font-weight:400;color:#151517;letter-spacing:1.019px">4,100.000</div>
<div class="t" id="p14" style="left:1796.46px;top:792px;font-size:19px;font-weight:400;color:#151517;letter-spacing:1.019px">4,075.000</div>
<div class="t" id="p15" style="left:1796.46px;top:843.87px;font-size:19px;font-weight:400;color:#151517;letter-spacing:1.019px">4,050.000</div>
<div class="t" id="p16" style="left:1796.46px;top:895.74px;font-size:19px;font-weight:400;color:#151517;letter-spacing:1.019px">4,025.000</div>
<div class="t" id="p17" style="left:1796.46px;top:947.61px;font-size:19px;font-weight:400;color:#151517;letter-spacing:1.019px">4,000.000</div>
<div class="t" id="p18" style="left:1796.18px;top:999.48px;font-size:19px;font-weight:400;color:#151517;letter-spacing:1.055px">3,975.000</div>
<div class="t" id="p19" style="left:1796.18px;top:1051.35px;font-size:19px;font-weight:400;color:#151517;letter-spacing:1.055px">3,950.000</div>
<div class="t" id="p20" style="left:1796.18px;top:1103.22px;font-size:19px;font-weight:400;color:#151517;letter-spacing:1.055px">3,925.000</div>
<div class="t" id="p21" style="left:1796.18px;top:1155.09px;font-size:19px;font-weight:400;color:#151517;letter-spacing:1.055px">3,900.000</div>
<div class="t" id="p22" style="left:1796.18px;top:1206.96px;font-size:19px;font-weight:400;color:#151517;letter-spacing:1.055px">3,875.000</div>
<div class="t" id="p23" style="left:1796.18px;top:1258.83px;font-size:19px;font-weight:400;color:#151517;letter-spacing:1.055px">3,850.000</div>
<div style="position:absolute;left:1785px;top:1022px;width:113.2px;height:26.1px;background:#089981;border-radius:0 3px 3px 0"></div>
<div style="position:absolute;left:1785px;top:1237.7px;width:74.3px;height:26px;background:#26a69a;border-radius:0 3px 3px 0"></div>
<div class="t" id="pl" style="left:1796.58px;top:1024.52px;font-size:19px;font-weight:400;color:#ffffff;letter-spacing:1.005px;-webkit-text-stroke-width:0.1px">3,963.210</div>
<div class="t" id="vl" style="left:1796.58px;top:1240.72px;font-size:19px;font-weight:400;color:#ffffff;letter-spacing:0.367px;-webkit-text-stroke-width:0.1px">35.7</div>
<div class="t" id="vlk" style="left:1838.84px;top:1240.72px;font-size:19px;font-weight:400;color:#ffffff;letter-spacing:0.000px;-webkit-text-stroke-width:0.1px">K</div>
<div class="t" id="t22" style="left:126.25px;top:1310.22px;font-size:19px;font-weight:400;color:#151517;letter-spacing:1.939px">18</div>
<div class="t" id="t45" style="left:254.85px;top:1310.22px;font-size:19px;font-weight:400;color:#151517;letter-spacing:1.550px">21</div>
<div class="t" id="t68" style="left:382.96px;top:1310.22px;font-size:19px;font-weight:400;color:#151517;letter-spacing:1.577px">22</div>
<div class="t" id="t91" style="left:511.07px;top:1310.22px;font-size:19px;font-weight:400;color:#151517;letter-spacing:1.457px">23</div>
<div class="t" id="t114" style="left:639.18px;top:1310.22px;font-size:19px;font-weight:400;color:#151517;letter-spacing:1.178px">24</div>
<div class="t" id="t137" style="left:767.29px;top:1310.22px;font-size:19px;font-weight:400;color:#151517;letter-spacing:1.420px">25</div>
<div class="t" id="t160" style="left:895.4px;top:1310.22px;font-size:19px;font-weight:400;color:#151517;letter-spacing:1.447px">28</div>
<div class="t" id="t183" style="left:1023.51px;top:1310.22px;font-size:19px;font-weight:400;color:#151517;letter-spacing:1.522px">29</div>
<div class="t" id="t206" style="left:1151.86px;top:1310.22px;font-size:19px;font-weight:400;color:#151517;letter-spacing:1.132px">30</div>
<div class="t" id="t229" style="left:1279.97px;top:1310.22px;font-size:19px;font-weight:400;color:#151517;letter-spacing:1.318px">31</div>
<div class="t" id="t274" style="left:1536.3px;top:1310.22px;font-size:19px;font-weight:400;color:#151517;letter-spacing:0.000px">4</div>
<div class="t" id="t297" style="left:1664.09px;top:1310.22px;font-size:19px;font-weight:400;color:#151517;letter-spacing:0.000px">5</div>
<div class="t" id="t252" style="left:1375.59px;top:1310.22px;font-size:19px;font-weight:700;color:#151517;letter-spacing:0.334px;-webkit-text-stroke-width:0">Tháng 11</div>
<div class="t" id="t0" style="left:16.13px;top:1310.22px;font-size:19px;font-weight:400;color:#151517;letter-spacing:0.000px">7</div>
</div>
</body></html>
